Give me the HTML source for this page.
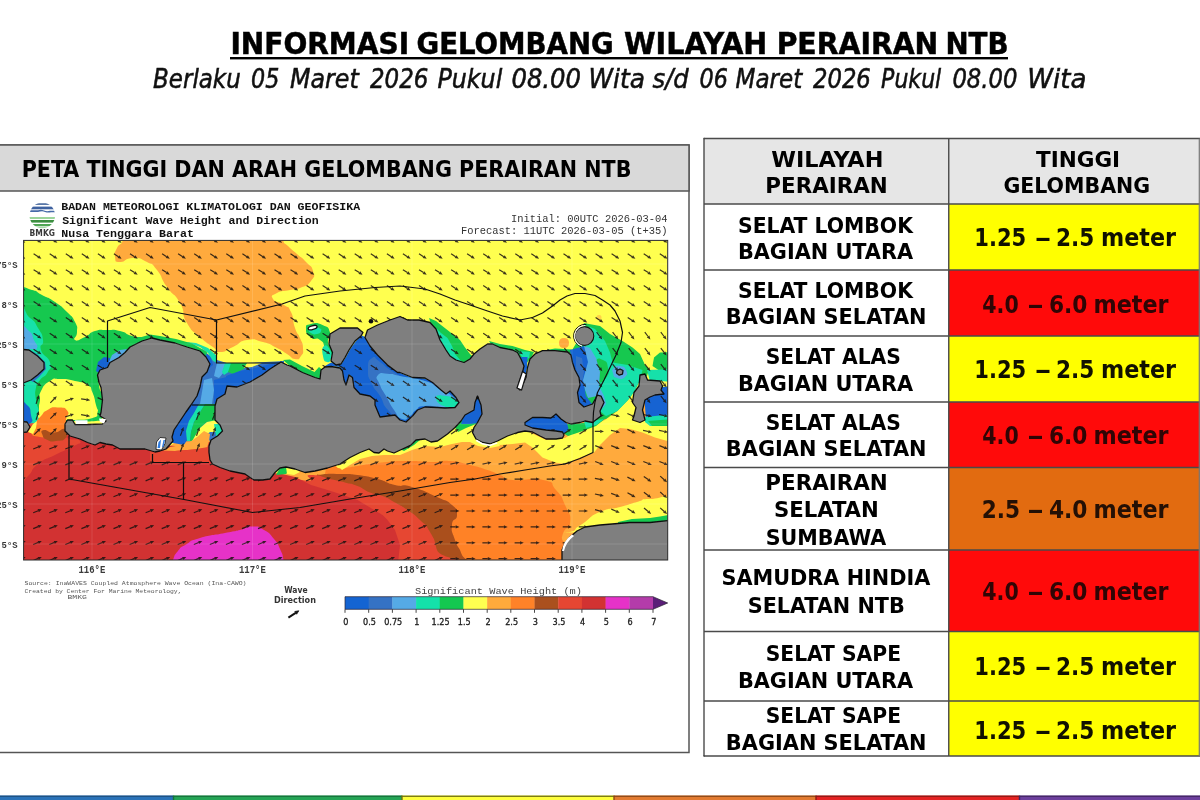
<!DOCTYPE html>
<html lang="id"><head><meta charset="utf-8"><title>Informasi Gelombang Wilayah Perairan NTB</title>
<style>html,body{margin:0;padding:0;background:#fff;overflow:hidden}svg{display:block}</style></head><body>
<svg width="1200" height="800" viewBox="0 0 1200 800">
<rect width="1200" height="800" fill="#fff"/>
<text y="54" font-family="'DejaVu Sans Condensed','DejaVu Sans','Liberation Sans',sans-serif" font-size="30" font-weight="bold" font-style="normal" fill="#000" stroke="#000" stroke-width="0.45"><tspan x="230.42" textLength="178.69" lengthAdjust="spacingAndGlyphs">INFORMASI</tspan> <tspan x="416.48" textLength="197.28" lengthAdjust="spacingAndGlyphs">GELOMBANG</tspan> <tspan x="623.94" textLength="143.38" lengthAdjust="spacingAndGlyphs">WILAYAH</tspan> <tspan x="776.65" textLength="161.66" lengthAdjust="spacingAndGlyphs">PERAIRAN</tspan> <tspan x="945.45" textLength="63.17" lengthAdjust="spacingAndGlyphs">NTB</tspan></text>
<rect x="230" y="57" width="778" height="2.4" fill="#000"/>
<text y="87.5" font-family="'DejaVu Sans Condensed','DejaVu Sans','Liberation Sans',sans-serif" font-size="26.6" font-weight="normal" font-style="italic" fill="#111" stroke="#111" stroke-width="0.5"><tspan x="153.04" textLength="87.72" lengthAdjust="spacingAndGlyphs">Berlaku</tspan> <tspan x="251.07" textLength="28.26" lengthAdjust="spacingAndGlyphs">05</tspan> <tspan x="290.01" textLength="68.75" lengthAdjust="spacingAndGlyphs">Maret</tspan> <tspan x="370.0" textLength="58.34" lengthAdjust="spacingAndGlyphs">2026</tspan> <tspan x="437.51" textLength="64.76" lengthAdjust="spacingAndGlyphs">Pukul</tspan> <tspan x="511.48" textLength="69.52" lengthAdjust="spacingAndGlyphs">08.00</tspan> <tspan x="588.42" textLength="56.47" lengthAdjust="spacingAndGlyphs">Wita</tspan> <tspan x="652.5" textLength="36.23" lengthAdjust="spacingAndGlyphs">s/d</tspan> <tspan x="699.57" textLength="28.26" lengthAdjust="spacingAndGlyphs">06</tspan> <tspan x="735.54" textLength="66.74" lengthAdjust="spacingAndGlyphs">Maret</tspan> <tspan x="813.0" textLength="57.83" lengthAdjust="spacingAndGlyphs">2026</tspan> <tspan x="881.08" textLength="60.17" lengthAdjust="spacingAndGlyphs">Pukul</tspan> <tspan x="952.45" textLength="64.96" lengthAdjust="spacingAndGlyphs">08.00</tspan> <tspan x="1027.22" textLength="59.25" lengthAdjust="spacingAndGlyphs">Wita</tspan></text>
<rect x="-2" y="145" width="691" height="607.5" fill="#fff" stroke="#555" stroke-width="1.5"/>
<rect x="-2" y="145" width="691" height="46" fill="#d9d9d9" stroke="#555" stroke-width="1.5"/>
<text x="21.73" y="177" font-family="'DejaVu Sans Condensed','DejaVu Sans','Liberation Sans',sans-serif" font-size="23.3" font-weight="bold" font-style="normal" fill="#000" text-anchor="start" textLength="609.72" lengthAdjust="spacingAndGlyphs">PETA TINGGI DAN ARAH GELOMBANG PERAIRAN NTB</text>
<g id="map">
<text x="61.2" y="210" font-family="'Liberation Mono','DejaVu Sans Mono',monospace" font-size="11.6" font-weight="bold" font-style="normal" fill="#111" text-anchor="start" textLength="298.97" lengthAdjust="spacingAndGlyphs">BADAN METEOROLOGI KLIMATOLOGI DAN GEOFISIKA</text>
<text x="62.2" y="223.8" font-family="'Liberation Mono','DejaVu Sans Mono',monospace" font-size="11.6" font-weight="bold" font-style="normal" fill="#111" text-anchor="start" textLength="256.54" lengthAdjust="spacingAndGlyphs">Significant Wave Height and Direction</text>
<text x="61.2" y="237.3" font-family="'Liberation Mono','DejaVu Sans Mono',monospace" font-size="11.6" font-weight="bold" font-style="normal" fill="#111" text-anchor="start" textLength="132.71" lengthAdjust="spacingAndGlyphs">Nusa Tenggara Barat</text>
<text x="510.99" y="222" font-family="'Liberation Mono','DejaVu Sans Mono',monospace" font-size="10.3" font-weight="normal" font-style="normal" fill="#333" text-anchor="start" textLength="156.5" lengthAdjust="spacingAndGlyphs">Initial: 00UTC 2026-03-04</text>
<text x="460.99" y="234" font-family="'Liberation Mono','DejaVu Sans Mono',monospace" font-size="10.3" font-weight="normal" font-style="normal" fill="#333" text-anchor="start" textLength="206.46" lengthAdjust="spacingAndGlyphs">Forecast: 11UTC 2026-03-05 (t+35)</text>
<defs><clipPath id="lg"><ellipse cx="42.3" cy="215.4" rx="12.8" ry="13"/></clipPath><filter id="soft" x="-2%" y="-2%" width="104%" height="104%"><feGaussianBlur stdDeviation="0.5"/></filter><clipPath id="mc"><rect x="23.6" y="240.4" width="644.1" height="319.6"/></clipPath></defs>
<g clip-path="url(#lg)"><rect x="29" y="202" width="27" height="27" fill="#fff"/><rect x="29" y="203.2" width="27" height="1.8" fill="#5a78a8"/><rect x="29" y="206.6" width="27" height="2.7" fill="#3f62a0"/><path d="M29,210.2h9q3,-1.2 6,0.2t6,0.3h6v1.6h-5q-3,0.8 -6,-0.4t-7,0.2h-9z" fill="#456aa8"/><rect x="29" y="217" width="27" height="2" fill="#9bd49b"/><rect x="29" y="220" width="27" height="2.6" fill="#3c8f40"/><rect x="29" y="224" width="27" height="2.3" fill="#4fa653"/><rect x="29" y="227.2" width="27" height="1.2" fill="#8fd08f"/></g>
<text x="29.6" y="236.3" font-family="'DejaVu Sans Condensed','DejaVu Sans','Liberation Sans',sans-serif" font-size="8.2" font-weight="bold" font-style="normal" fill="#3a3a3a" text-anchor="start" textLength="25.4" lengthAdjust="spacingAndGlyphs">BMKG</text>
<g clip-path="url(#mc)"><g filter="url(#soft)">
<rect x="23.6" y="240.4" width="644.1" height="319.6" fill="#ffff50"/>
<path d="M124,228 C71.0,232.0 125.3,233.3 123,240 C120.7,246.7 119.7,242.3 117,248 C114.3,253.7 114.0,252.3 115,257 C116.0,261.7 114.0,261.7 120,262 C126.0,262.3 124.0,258.0 133,258 C142.0,258.0 139.0,258.0 147,262 C155.0,266.0 150.3,261.7 157,270 C163.7,278.3 159.3,276.0 167,287 C174.7,298.0 173.3,291.0 180,303 C186.7,315.0 180.3,311.7 187,323 C193.7,334.3 191.3,329.0 200,337 C208.7,345.0 206.3,342.0 213,347 C219.7,352.0 213.3,352.0 220,352 C226.7,352.0 224.0,351.0 233,347 C242.0,343.0 237.0,341.7 247,340 C257.0,338.3 253.0,339.3 263,342 C273.0,344.7 269.0,344.0 277,348 C285.0,352.0 281.0,350.3 287,354 C293.0,357.7 290.3,358.3 295,359 C299.7,359.7 298.3,359.7 301,356 C303.7,352.3 303.3,354.0 303,348 C302.7,342.0 302.7,344.7 300,338 C297.3,331.3 298.0,336.7 295,328 C292.0,319.3 294.7,319.7 291,312 C287.3,304.3 290.0,309.3 284,305 C278.0,300.7 275.3,303.0 273,299 C270.7,295.0 271.3,296.0 277,293 C282.7,290.0 282.3,291.7 290,290 C297.7,288.3 293.0,291.0 300,288 C307.0,285.0 306.7,286.7 311,281 C315.3,275.3 314.7,277.3 313,271 C311.3,264.7 311.3,267.7 306,262 C300.7,256.3 303.0,259.3 297,254 C291.0,248.7 292.7,250.7 288,246 C283.3,241.3 285.0,246.0 283,240 C281.0,234.0 335.0,232.0 282,228 C229.0,224.0 177.0,224.0 124,228Z" fill="#ffaa3c"/>
<path d="M559,343 C559.0,339.7 560.7,338.0 564,338 C567.3,338.0 569.0,339.7 569,343 C569.0,346.3 567.3,348.0 564,348 C560.7,348.0 559.0,346.3 559,343Z" fill="#ffaa3c"/>
<path d="M596.5,317.5 C596.5,315.8 597.3,315.0 599,315 C600.7,315.0 601.5,315.8 601.5,317.5 C601.5,319.2 600.7,320.0 599,320 C597.3,320.0 596.5,319.2 596.5,317.5Z" fill="#ffd24a"/>
<path d="M18,289 C26.0,285.7 24.0,288.0 32,290 C40.0,292.0 34.3,291.0 42,295 C49.7,299.0 46.7,296.3 55,302 C63.3,307.7 60.3,305.3 67,312 C73.7,318.7 71.7,315.3 75,322 C78.3,328.7 77.0,326.0 77,332 C77.0,338.0 72.3,338.3 75,340 C77.7,341.7 78.3,340.0 85,337 C91.7,334.0 87.7,333.3 95,331 C102.3,328.7 98.7,330.0 107,330 C115.3,330.0 111.7,329.0 120,331 C128.3,333.0 124.0,333.7 132,336 C140.0,338.3 141.3,335.7 144,338 C146.7,340.3 145.3,339.0 140,343 C134.7,347.0 135.3,345.0 128,350 C120.7,355.0 124.7,353.3 118,358 C111.3,362.7 114.0,359.3 108,364 C102.0,368.7 103.0,365.0 100,372 C97.0,379.0 98.0,375.7 99,385 C100.0,394.3 102.0,389.0 103,400 C104.0,411.0 104.3,411.0 102,418 C99.7,425.0 106.7,420.0 96,421 C85.3,422.0 85.3,421.0 70,421 C54.7,421.0 60.7,420.7 50,421 C39.3,421.3 44.7,418.3 38,422 C31.3,425.7 36.7,427.3 30,432 C23.3,436.7 25.3,446.7 18,436 C10.7,425.3 11.3,445.3 8,400 C4.7,354.7 4.7,337.0 8,300 C11.3,263.0 10.0,292.3 18,289Z" fill="#14c850"/>
<path d="M18,313 C25.3,299.0 23.3,313.0 30,318 C36.7,323.0 33.7,320.7 38,328 C42.3,335.3 42.0,332.7 43,340 C44.0,347.3 38.7,342.5 41,350 C43.3,357.5 47.8,355.0 50,362.5 C52.2,370.0 50.8,366.7 47.5,372.5 C44.2,378.3 43.8,375.0 40,380 C36.2,385.0 37.3,380.8 36,387.5 C34.7,394.2 35.0,391.7 36,400 C37.0,408.3 38.5,405.5 39,412.5 C39.5,419.5 40.2,414.8 37.5,421 C34.8,427.2 37.5,426.0 31,431 C24.5,436.0 25.7,459.7 18,436 C10.3,412.3 8.0,401.0 8,360 C8.0,319.0 10.7,327.0 18,313Z" fill="#14e1aa"/>
<path d="M18,326 C21.7,320.3 23.7,326.3 29,331 C34.3,335.7 31.3,334.3 34,340 C36.7,345.7 38.3,345.0 37,348 C35.7,351.0 36.3,349.0 30,349 C23.7,349.0 22.0,355.7 18,348 C14.0,340.3 14.3,331.7 18,326Z" fill="#55aae6"/>
<path d="M18,403 C21.0,395.3 22.7,401.0 27,405 C31.3,409.0 30.0,408.7 31,415 C32.0,421.3 34.3,419.7 30,424 C25.7,428.3 22.0,435.0 18,428 C14.0,421.0 15.0,410.7 18,403Z" fill="#1464d2"/>
<path d="M28,349 L37,354 L45,362 L46,369 L39,377 L33,382 L30,380 L38,374 L42,367 L41,362 L34,356Z" fill="#3572c4"/>
<path d="M41,391 C44.3,384.7 43.7,385.0 50,381 C56.3,377.0 51.7,379.0 60,379 C68.3,379.0 65.8,379.0 75,381 C84.2,383.0 81.7,381.2 87.5,385 C93.3,388.8 89.7,385.8 92.5,392.5 C95.3,399.2 94.3,398.3 96,405 C97.7,411.7 98.7,408.2 97.5,412.5 C96.3,416.8 100.0,415.5 92.5,418 C85.0,420.5 84.2,419.3 75,420 C65.8,420.7 73.3,419.7 65,420 C56.7,420.3 58.3,421.0 50,421 C41.7,421.0 43.7,424.0 40,420 C36.3,416.0 39.0,415.7 39,409 C39.0,402.3 39.3,406.0 40,400 C40.7,394.0 37.7,397.3 41,391Z" fill="#ffff50"/>
<path d="M96,371 L98,362 L104,357 L110,358 L110,364 L106,369 L100,374Z" fill="#1464d2"/>
<path d="M109,362 L112,355 L120,350 L127,349 L122,356 L114,362Z" fill="#55aae6"/>
<path d="M18,430 L66,430 L70,438 L120,450 L160,455 L175,442 L190,440 L212,440 L207,452 L215,468 L250,484 L280,472 L340,468 L365,453 L412,444 L450,436 L472,425 L520,420 L600,405 L640,400 L674,400 L674,565 L18,565Z" fill="#ffaa3c"/>
<path d="M325,474 C330.8,441.0 331.7,471.7 342.5,469 C353.3,466.3 344.2,468.2 357.5,466 C370.8,463.8 365.8,464.2 382.5,462.5 C399.2,460.8 390.7,461.2 407.5,461 C424.3,460.8 418.8,462.0 433,462 C447.2,462.0 437.7,460.0 450,461 C462.3,462.0 457.5,462.0 470,465 C482.5,468.0 477.5,466.7 487.5,470 C497.5,473.3 491.7,471.7 500,475 C508.3,478.3 498.2,478.3 512.5,480 C526.8,481.7 528.5,476.7 543,480 C557.5,483.3 548.7,481.7 556,490 C563.3,498.3 560.3,494.0 565,505 C569.7,516.0 571.0,512.3 570,523 C569.0,533.7 566.0,522.0 562,537 C558.0,552.0 637.0,557.7 558,568 C479.0,578.3 402.7,599.3 325,568 C247.3,536.7 319.2,507.0 325,474Z" fill="#ff8228"/>
<path d="M316,477 C319.3,471.8 314.0,475.5 322,474.5 C330.0,473.5 328.2,473.8 340,474 C351.8,474.2 345.0,473.3 357.5,475 C370.0,476.7 365.0,475.7 377.5,479 C390.0,482.3 383.5,482.3 395,485 C406.5,487.7 398.0,483.0 412,487 C426.0,491.0 423.7,491.0 437,497 C450.3,503.0 445.3,499.0 452,505 C458.7,511.0 457.0,508.3 457,515 C457.0,521.7 452.7,516.7 452,525 C451.3,533.3 451.7,530.0 455,540 C458.3,550.0 458.3,544.3 462,555 C465.7,565.7 514.0,566.3 466,572 C418.0,577.7 370.0,589.3 318,572 C266.0,554.7 312.0,547.3 310,520 C308.0,492.7 310.0,504.3 312,490 C314.0,475.7 312.7,482.2 316,477Z" fill="#aa501e"/>
<path d="M190,452 C223.3,420.7 249.7,470.3 290,478 C330.3,485.7 297.7,474.7 311,475 C324.3,475.3 318.7,476.5 330,479 C341.3,481.5 335.8,480.2 345,482.5 C354.2,484.8 349.2,482.7 357.5,486 C365.8,489.3 361.7,489.2 370,492.5 C378.3,495.8 374.2,492.7 382.5,496 C390.8,499.3 386.7,497.8 395,502.5 C403.3,507.2 399.2,504.2 407.5,510 C415.8,515.8 412.5,512.7 420,520 C427.5,527.3 424.3,522.0 430,532 C435.7,542.0 433.3,536.7 437,550 C440.7,563.3 523.3,564.7 441,572 C358.7,579.3 273.7,612.0 190,572 C106.3,532.0 156.7,483.3 190,452Z" fill="#e64632"/>
<path d="M18,431 L64,431 L70,432 L120,440 L160,445 L175,446 L190,449 L212,450 L225,462 L250,472 L282,474 L295,477 L311,485 L327.5,490 L340,494 L357.5,500 L370,507.5 L382.5,515 L387.5,520 L395,530 L400,545 L397,572 L18,572Z" fill="#d23232"/>
<path d="M18,431 C33.7,414.0 48.7,428.7 65,431 C81.3,433.3 62.0,434.7 67,438 C72.0,441.3 78.3,438.0 80,441 C81.7,444.0 80.3,442.3 72,447 C63.7,451.7 66.3,449.3 55,455 C43.7,460.7 47.0,457.0 38,464 C29.0,471.0 34.7,470.0 28,476 C21.3,482.0 21.3,497.0 18,482 C14.7,467.0 2.3,448.0 18,431Z" fill="#e64632"/>
<path d="M31,432 C29.7,427.2 32.7,427.8 36,422.5 C39.3,417.2 37.2,420.2 41,416 C44.8,411.8 42.0,412.8 47.5,410 C53.0,407.2 50.8,407.2 57.5,407.5 C64.2,407.8 64.7,406.8 67.5,411 C70.3,415.2 66.8,413.0 66,420 C65.2,427.0 69.0,426.7 65,432 C61.0,437.3 62.3,434.3 54,436 C45.7,437.7 47.7,438.3 40,437 C32.3,435.7 32.3,436.8 31,432Z" fill="#ff8228"/>
<path d="M28,432 L33,424 L37,421 L36,428 L33,434Z" fill="#ffff50"/>
<path d="M42.5,435 C41.3,431.7 40.2,430.8 44,430 C47.8,429.2 47.0,432.8 54,432.5 C61.0,432.2 61.0,427.3 65,429 C69.0,430.7 69.0,433.5 66,437.5 C63.0,441.5 62.2,440.2 56,441 C49.8,441.8 52.0,442.0 47.5,440 C43.0,438.0 43.7,438.3 42.5,435Z" fill="#aa501e"/>
<path d="M171,570 C134.0,566.7 170.7,566.3 173,560 C175.3,553.7 173.7,556.2 178,551 C182.3,545.8 178.7,548.8 186,544.5 C193.3,540.2 187.0,541.8 200,538 C213.0,534.2 211.7,535.7 225,533 C238.3,530.3 231.0,532.2 240,530 C249.0,527.8 244.0,526.5 252,526.5 C260.0,526.5 256.7,525.8 264,530 C271.3,534.2 268.7,532.7 274,539 C279.3,545.3 276.8,542.0 280,549 C283.2,556.0 282.2,553.0 283.5,560 C284.8,567.0 321.5,566.7 284,570 C246.5,573.3 208.0,573.3 171,570Z" fill="#e632c8"/>
<path d="M530,432.5 L546,440 L565,438 L575,432 L593,425 L605,420 L617.5,411 L630,396 L637,405 L636,416 L642.5,418 L655,420 L666,420 L674,420 L674,443 L655,437.5 L642.5,432.5 L630,429 L620,428 L610,435 L600,445 L594,452.5 L580,457.5 L565,464 L555,462.5 L542.5,457.5 L532.5,447.5 L525,442.5 L512.5,444 L500,445 L495,442.5 L510,434 L525,430Z" fill="#ffff50"/>
<path d="M563,424 L575,424 L590,422 L600,416 L606,418 L596,426 L580,432 L568,436 L563,433Z" fill="#14c850"/>
<path d="M584,421 L598,417 L604,419 L596,425 L586,428Z" fill="#14e1aa"/>
<path d="M575,530 C576.7,526.7 576.7,528.0 585,522 C593.3,516.0 588.3,517.0 600,512 C611.7,507.0 607.7,510.3 620,507 C632.3,503.7 627.0,504.7 637,502 C647.0,499.3 637.7,499.3 650,499 C662.3,498.7 666.0,492.3 674,501 C682.0,509.7 705.3,514.7 674,525 C642.7,535.3 613.0,530.3 580,532 C547.0,533.7 573.3,533.3 575,530Z" fill="#ffff50"/>
<path d="M618,522 L632,519 L650,518 L660,516.5 L674,514 L674,526 L618,526Z" fill="#14c850"/>
<path d="M338,466 L350,457.5 L360,452.5 L369,449 L374,452.5 L379,453 L384,449 L394,453 L402.5,449 L411,445 L416,440 L425,439 L431,442 L437.5,441 L447.5,434 L455,427.5 L461,421 L466,416 L476,420 L474,427.5 L472.5,432.5 L476,439 L482.5,442.5 L490,444 L497.5,441 L500,446 L490,448 L478,446 L470,442 L462,442 L452,444 L440,447 L425,446 L412,450 L400,455 L384,455 L372,456 L360,459 L350,465 L342,470Z" fill="#ffff50"/>
<path d="M455,427.5 L461,421 L465,416 L474,413 L480,418 L476,424 L466,428 L458,432Z" fill="#14c850"/>
<path d="M462,419 L466,415 L474,412 L481,414 L478,420 L470,423Z" fill="#14e1aa"/>
<path d="M400,449 L407.5,445 L416,440 L420,440 L414,445 L404,451Z" fill="#14c850"/>
<path d="M276,475 L280,468 L286,467 L290,469 L286,474Z" fill="#14c850"/>
<path d="M286,467 L295,469 L300,472 L294,475 L287,474Z" fill="#ffff50"/>
<path d="M195,346 L217,360 L230,364 L284,361 L284,372 L250,384 L226,392 L218,402 L224,440 L168,442 L185,410 L198,385Z" fill="#3572c4"/>
<path d="M190,345 L204,350 L211,358 L213,365 L208,369 L203,360 L196,353Z" fill="#1464d2"/>
<path d="M186,342 L200,347 L208,353 L213,361 L217,363 L217,356 L208,348 L196,343Z" fill="#14e1aa"/>
<path d="M217,363 L226,363 L224,372 L219,378 L214,376Z" fill="#55aae6"/>
<path d="M225,363 L232,363 L230,371 L224,375 L222,372Z" fill="#14e1aa"/>
<path d="M231,363 L248,363 L244,369 L233,374 L228,372Z" fill="#14c850"/>
<path d="M247,363 L262,363 L252,367 L244,368Z" fill="#ffff50"/>
<path d="M226,376 L240,371 L255,368 L270,364 L284,361 L272,370 L262,376 L250,383 L237,388 L227,387Z" fill="#1464d2"/>
<path d="M204,380 L212,378 L214,390 L212,404 L200,404 L202,392Z" fill="#55aae6"/>
<path d="M214,380 L227,377 L227,392 L218,400 L214,404Z" fill="#1464d2"/>
<path d="M190,404 L199,404 L194,413 L189,421 L186,431 L187,440 L184,445 L168,442 L174,430 L180,420 L186,412Z" fill="#1464d2"/>
<path d="M199,404 L205,404 L199,414 L194,422 L191,432 L190,441 L187,441 L186,431 L189,421 L194,413Z" fill="#14e1aa"/>
<path d="M205,404 L217,404 L217,421 L207,422 L200,428 L195,436 L193,441 L190,441 L191,432 L194,422 L199,414Z" fill="#14c850"/>
<path d="M217,420 L207,422 L200,428 L195,436 L191,443 L198,444 L203,437 L210,432 L224,432 L222,424Z" fill="#ffff50"/>
<path d="M214,424 L222,424 L223,435 L216,436Z" fill="#14e1aa"/>
<path d="M204,431 L210,434 L209,441 L207,448 L194,449.5 L181,450.5 L162,452 L157,454 L170,447 L187,444 L197,437Z" fill="#ffaa3c"/>
<path d="M150,450 L175,451 L194,449.5 L208,447 L210,463 L150,463Z" fill="#e64632"/>
<path d="M128,348 L142,341 L152,338 L160,340 L175,343 L187,347 L200,351 L206,356 L207,352 L192,343.5 L176,339 L160,336 L150,334.5 L140,337.5 L128,344Z" fill="#14c850"/>
<path d="M306,329 C306.0,324.5 305.5,325.3 311,324 C316.5,322.7 316.2,322.2 322.5,325 C328.8,327.8 328.2,326.7 330,332.5 C331.8,338.3 327.0,336.7 328,342.5 C329.0,348.3 332.0,345.5 333,350 C334.0,354.5 332.7,352.7 331,356 C329.3,359.3 330.0,362.7 328,360 C326.0,357.3 327.7,354.7 325,348 C322.3,341.3 324.7,343.5 320,340 C315.3,336.5 315.7,341.2 311,337.5 C306.3,333.8 306.0,333.5 306,329Z" fill="#14c850"/>
<path d="M309,329 C309.7,327.0 309.7,327.3 313,327 C316.3,326.7 316.3,326.7 319,328 C321.7,329.3 321.7,329.0 321,331 C320.3,333.0 320.3,333.3 317,334 C313.7,334.7 313.7,334.7 311,333 C308.3,331.3 308.3,331.0 309,329Z" fill="#14e1aa"/>
<path d="M324,346 C326.3,344.0 327.7,346.0 330,350 C332.3,354.0 332.0,354.0 331,358 C330.0,362.0 329.7,362.7 327,362 C324.3,361.3 324.0,361.3 323,356 C322.0,350.7 321.7,348.0 324,346Z" fill="#14e1aa"/>
<path d="M283,360 L290,366 L302.5,372.5 L315,377.5 L321,379.5 L322.5,370 L319,367 L314.5,372 L302,366 L290,359.5Z" fill="#14c850"/>
<path d="M365,337 L371,346 L378,355 L388,365 L398,372 L410,377 L425,378.5 L433,382 L441,389.5 L447,392 L451,390.5 L457,397 L460,402.5 L456,408 L445,409 L437,408 L425,407.5 L417,410.5 L412,417 L406,423 L399,421 L395,416 L380,418 L374,405 L374,400 L369,397 L359,395 L353,388 L352,377 L349,374.5 L346,386 L343,380 L342,370 L340,367 L330,366 L322,369 L321,372 L325,366 L331,362.5 L341,364.5 L346,357 L350,349.5 L356,341 L362,335.5Z" fill="#1464d2"/>
<path d="M372,358 C376.0,355.3 373.3,357.7 380,362 C386.7,366.3 383.0,365.7 392,371 C401.0,376.3 396.0,374.7 407,378 C418.0,381.3 415.0,378.0 425,381 C435.0,384.0 428.7,382.7 437,387 C445.3,391.3 444.0,389.0 450,394 C456.0,399.0 458.3,397.3 455,402 C451.7,406.7 451.7,406.7 440,408 C428.3,409.3 430.0,404.0 420,406 C410.0,408.0 416.7,410.0 410,414 C403.3,418.0 407.3,419.3 400,418 C392.7,416.7 394.7,417.3 388,410 C381.3,402.7 385.3,404.7 380,396 C374.7,387.3 376.0,392.7 372,384 C368.0,375.3 368.0,378.7 368,370 C368.0,361.3 368.0,360.7 372,358Z" fill="#3572c4"/>
<path d="M378,375 C381.3,371.3 382.7,373.7 390,374 C397.3,374.3 388.3,373.7 400,376 C411.7,378.3 411.7,376.7 425,381 C438.3,385.3 431.0,384.0 440,389 C449.0,394.0 446.7,391.3 452,396 C457.3,400.7 458.3,399.3 456,403 C453.7,406.7 455.3,406.0 445,407 C434.7,408.0 434.7,405.0 425,406 C415.3,407.0 421.0,406.7 416,410 C411.0,413.3 414.7,413.0 410,416 C405.3,419.0 407.3,421.0 402,419 C396.7,417.0 399.3,417.7 394,410 C388.7,402.3 390.7,404.3 386,396 C381.3,387.7 382.7,392.0 380,385 C377.3,378.0 374.7,378.7 378,375Z" fill="#55aae6"/>
<path d="M436,398 C436.0,394.3 439.3,395.3 446,396 C452.7,396.7 452.3,397.0 456,400 C459.7,403.0 460.3,402.7 457,405 C453.7,407.3 453.0,409.3 446,407 C439.0,404.7 436.0,401.7 436,398Z" fill="#14e1aa"/>
<path d="M429,318 L436,321 L441,325 L452.5,334 L460,340 L465,347.5 L470,354 L474,358 L466,365 L456,362 L448,356 L443,347 L438,335 L432,327Z" fill="#14c850"/>
<path d="M436,328 L441,333 L447.5,338 L452,346 L455,354 L461,361 L456,362 L449,356 L444,349 L439,340Z" fill="#14e1aa"/>
<path d="M489,341 L500,344 L512.5,346 L525,350 L534,352 L531,358 L524,366 L520,359 L516,353 L500,349 L492,346Z" fill="#14c850"/>
<path d="M518,351 L530,352 L529,358 L524,360Z" fill="#14e1aa"/>
<path d="M520.5,357 L527.5,357 L527,367.5 L525,378 L521,379 L522.5,368Z" fill="#1464d2"/>
<path d="M541,351 L555,348.5 L572,349.5 L572,354 L545,354Z" fill="#14c850"/>
<path d="M584,323 L589,324 L600,326 L610,334 L622.5,341 L632.5,347.5 L640,354 L645,365 L649,369 L647,376 L640,380 L634,392 L628,400 L617,411 L606,419 L596,420 L585,410 L575,400 L571,352 L578,340Z" fill="#14c850"/>
<path d="M652.5,366 L654,357.5 L660,352.5 L674,352 L674,372 L660,371Z" fill="#14c850"/>
<path d="M647,370 L674,369 L674,382 L660,381 L650,381Z" fill="#14e1aa"/>
<path d="M590,327 L595,329 L605,341 L610,352.5 L612.5,362.5 L627.5,365 L642.5,370 L640,380 L634,392 L628,400 L617.5,411 L606,416 L600,411 L596,396 L590,380 L586,360 L586,340Z" fill="#14e1aa"/>
<path d="M595,362 C598.0,357.3 598.7,358.0 603,360 C607.3,362.0 607.0,362.0 608,368 C609.0,374.0 609.3,373.3 606,378 C602.7,382.7 602.0,383.3 598,382 C594.0,380.7 595.0,380.7 594,374 C593.0,367.3 592.0,366.7 595,362Z" fill="#14c850"/>
<path d="M584,346 L590,348 L596,358 L600,372 L599,386 L604,396 L606,404 L600,411 L597,396 L588,398 L582,382 L580,360Z" fill="#55aae6"/>
<path d="M570,350 L584,346 L588,362 L583,380 L586,396 L592,404 L584,408 L578,403 L575,390 L573,370Z" fill="#1464d2"/>
<path d="M576,356 L582,358 L584,372 L582,384 L578,380 L576,368Z" fill="#3572c4"/>
<path d="M614,368 C616.3,365.7 616.0,365.3 620,366 C624.0,366.7 624.3,366.3 626,370 C627.7,373.7 628.0,374.3 625,377 C622.0,379.7 621.0,379.3 617,378 C613.0,376.7 614.0,376.3 613,373 C612.0,369.7 611.7,370.3 614,368Z" fill="#55aae6"/>
<path d="M644,394 L652,388 L674,386 L674,419 L646,419Z" fill="#1464d2"/>
<path d="M645,417 L674,414 L674,426 L650,426 L645,422Z" fill="#14e1aa"/>
<path d="M648,421 L674,419 L674,426 L652,426Z" fill="#14c850"/>
<path d="M476,395 L480,396 L482.5,405 L483,414 L478.5,423 L470,424 L461,424 L464,415 L473,410 L474,402Z" fill="#1464d2"/>
<path d="M524,422 L532,416.5 L551,417 L556,413 L562,418.5 L567,423 L568.5,429 L565,433 L556,432 L546,431 L532,429 L524,426Z" fill="#1464d2"/>
<path d="M17.6,237.8L22.1,240.8M33.6,237.8L38.2,240.8M49.7,237.8L54.2,240.8M65.8,237.8L70.3,240.8M81.8,237.8L86.3,240.8M97.9,237.8L102.4,240.8M113.9,237.8L118.4,240.8M130.0,237.8L134.5,240.8M146.0,237.8L150.6,240.8M162.1,237.8L166.6,240.8M178.1,237.8L182.7,240.8M194.2,237.8L198.7,240.8M210.2,237.8L214.8,240.8M226.3,237.8L230.8,240.8M242.4,237.8L246.9,240.8M258.4,237.8L262.9,240.8M274.5,237.8L279.0,240.8M290.5,237.8L295.1,240.8M306.6,237.8L311.1,240.8M322.6,237.8L327.2,240.8M338.7,237.8L343.2,240.8M354.7,237.8L359.3,240.8M370.8,237.8L375.3,240.8M386.9,237.8L391.4,240.8M402.9,237.8L407.4,240.8M419.0,237.8L423.5,240.8M435.0,237.8L439.5,240.8M451.1,237.8L455.6,240.8M467.1,237.8L471.7,240.8M483.2,237.8L487.7,240.8M499.2,237.8L503.8,240.8M515.3,237.8L519.8,240.8M531.3,237.8L535.9,240.8M547.4,237.8L551.9,240.8M563.5,237.8L568.0,240.8M579.5,237.8L584.0,240.8M595.6,237.8L600.1,240.8M611.6,237.8L616.2,240.8M627.7,237.8L632.2,240.8M643.7,237.8L648.3,240.8M659.8,237.8L664.3,240.8M17.6,253.7L22.1,256.7M33.6,253.7L38.2,256.7M49.7,253.7L54.2,256.7M65.8,253.7L70.3,256.7M81.8,253.7L86.3,256.7M97.9,253.7L102.4,256.7M113.9,253.7L118.4,256.7M130.0,253.7L134.5,256.7M146.0,253.7L150.6,256.7M162.1,253.7L166.6,256.7M178.1,253.7L182.7,256.7M194.2,253.7L198.7,256.7M210.2,253.7L214.8,256.7M226.3,253.7L230.8,256.7M242.4,253.7L246.9,256.7M258.4,253.7L262.9,256.7M274.5,253.7L279.0,256.7M290.5,253.7L295.1,256.7M306.6,253.7L311.1,256.7M322.6,253.7L327.2,256.7M338.7,253.7L343.2,256.7M354.7,253.7L359.3,256.7M370.8,253.7L375.3,256.7M386.9,253.7L391.4,256.7M402.9,253.7L407.4,256.7M419.0,253.7L423.5,256.7M435.0,253.7L439.5,256.7M451.1,253.7L455.6,256.7M467.1,253.7L471.7,256.7M483.2,253.7L487.7,256.7M499.2,253.7L503.8,256.7M515.3,253.7L519.8,256.7M531.3,253.7L535.9,256.7M547.4,253.7L551.9,256.7M563.5,253.7L568.0,256.7M579.5,253.7L584.0,256.7M595.6,253.7L600.1,256.7M611.6,253.7L616.2,256.7M627.7,253.7L632.2,256.7M643.7,253.7L648.3,256.7M659.8,253.7L664.3,256.7M17.6,269.7L22.1,272.6M33.6,269.7L38.2,272.6M49.7,269.7L54.2,272.6M65.8,269.7L70.3,272.6M81.8,269.7L86.3,272.6M97.9,269.7L102.4,272.6M113.9,269.7L118.4,272.6M130.0,269.7L134.5,272.6M146.0,269.7L150.6,272.6M162.1,269.7L166.6,272.6M178.1,269.7L182.7,272.6M194.2,269.7L198.7,272.6M210.2,269.7L214.8,272.6M226.3,269.7L230.8,272.6M242.4,269.7L246.9,272.6M258.4,269.7L262.9,272.6M274.5,269.7L279.0,272.6M290.5,269.7L295.1,272.6M306.6,269.7L311.1,272.6M322.6,269.7L327.2,272.6M338.7,269.7L343.2,272.6M354.7,269.7L359.3,272.6M370.8,269.7L375.3,272.6M386.9,269.7L391.4,272.6M402.9,269.7L407.4,272.6M419.0,269.7L423.5,272.6M435.0,269.7L439.5,272.6M451.1,269.7L455.6,272.6M467.1,269.7L471.7,272.6M483.2,269.7L487.7,272.6M499.2,269.7L503.8,272.6M515.3,269.7L519.8,272.6M531.3,269.7L535.9,272.6M547.4,269.7L551.9,272.6M563.5,269.7L568.0,272.6M579.5,269.7L584.0,272.6M595.6,269.7L600.1,272.6M611.6,269.7L616.2,272.6M627.7,269.7L632.2,272.6M643.7,269.7L648.3,272.6M659.8,269.7L664.3,272.6M17.6,285.6L22.1,288.5M33.6,285.6L38.2,288.5M49.7,285.6L54.2,288.5M65.8,285.6L70.3,288.5M81.8,285.6L86.3,288.5M97.9,285.6L102.4,288.5M113.9,285.6L118.4,288.5M130.0,285.6L134.5,288.5M146.0,285.6L150.6,288.5M162.1,285.6L166.6,288.5M178.1,285.6L182.7,288.5M194.2,285.6L198.7,288.5M210.2,285.6L214.8,288.5M226.3,285.6L230.8,288.5M242.4,285.6L246.9,288.5M258.4,285.6L262.9,288.5M274.5,285.6L279.0,288.5M290.5,285.6L295.1,288.5M306.6,285.6L311.1,288.5M322.6,285.6L327.2,288.5M338.7,285.6L343.2,288.5M354.7,285.6L359.3,288.5M370.8,285.6L375.3,288.5M386.9,285.6L391.4,288.5M402.9,285.6L407.4,288.5M419.0,285.6L423.5,288.5M435.0,285.6L439.5,288.5M451.1,285.6L455.6,288.5M467.1,285.6L471.7,288.5M483.2,285.6L487.7,288.5M499.2,285.6L503.8,288.5M515.3,285.6L519.8,288.5M531.3,285.6L535.9,288.5M547.4,285.6L551.9,288.5M563.5,285.6L568.0,288.5M579.5,285.6L584.0,288.5M595.6,285.6L600.1,288.5M611.6,285.6L616.2,288.5M627.7,285.6L632.2,288.5M643.7,285.6L648.3,288.5M659.8,285.6L664.3,288.5M17.6,301.5L22.1,304.4M33.6,301.5L38.2,304.4M49.7,301.5L54.2,304.4M65.8,301.5L70.3,304.4M81.8,301.5L86.3,304.4M97.9,301.5L102.4,304.4M113.9,301.5L118.4,304.4M130.0,301.5L134.5,304.4M146.0,301.5L150.6,304.4M162.1,301.5L166.6,304.4M178.1,301.5L182.7,304.4M194.2,301.5L198.7,304.4M210.2,301.5L214.8,304.4M226.3,301.5L230.8,304.4M242.4,301.5L246.9,304.4M258.4,301.5L262.9,304.4M274.5,301.5L279.0,304.4M290.5,301.5L295.1,304.4M306.6,301.5L311.1,304.4M322.6,301.5L327.2,304.4M338.7,301.5L343.2,304.4M354.7,301.5L359.3,304.4M370.8,301.5L375.3,304.4M386.9,301.5L391.4,304.4M402.9,301.5L407.4,304.4M419.0,301.5L423.5,304.4M435.0,301.5L439.5,304.4M451.1,301.5L455.6,304.4M467.1,301.5L471.7,304.4M483.2,301.5L487.7,304.4M499.2,301.5L503.8,304.4M515.3,301.5L519.8,304.4M531.3,301.5L535.9,304.4M547.4,301.5L551.9,304.4M563.5,301.5L568.0,304.4M579.5,301.5L584.0,304.4M595.6,301.5L600.1,304.4M611.6,301.5L616.2,304.4M627.7,301.5L632.2,304.4M643.7,301.5L648.3,304.4M659.8,301.5L664.3,304.4M17.6,317.4L22.1,320.4M33.6,317.4L38.2,320.4M49.7,317.4L54.2,320.4M65.8,317.4L70.3,320.4M81.8,317.4L86.3,320.4M97.9,317.4L102.4,320.4M113.9,317.4L118.4,320.4M130.0,317.4L134.5,320.4M146.0,317.4L150.6,320.4M162.1,317.4L166.6,320.4M178.1,317.4L182.7,320.4M194.2,317.4L198.7,320.4M210.2,317.4L214.8,320.4M226.3,317.4L230.8,320.4M242.4,317.4L246.9,320.4M258.4,317.4L262.9,320.4M274.5,317.4L279.0,320.4M290.5,317.4L295.1,320.4M306.6,317.4L311.1,320.4M322.6,317.4L327.2,320.4M338.7,317.4L343.2,320.4M354.7,317.4L359.3,320.4M370.8,317.4L375.3,320.4M386.9,317.4L391.4,320.4M402.9,317.4L407.4,320.4M419.0,317.4L423.5,320.4M435.0,317.4L439.5,320.4M451.1,317.4L455.6,320.4M467.1,317.4L471.7,320.4M483.2,317.4L487.7,320.4M499.2,317.4L503.8,320.4M515.3,317.4L519.8,320.4M531.3,317.4L535.9,320.4M547.4,317.4L551.9,320.4M563.5,317.4L568.0,320.4M579.5,317.4L584.0,320.4M595.6,317.4L600.1,320.4M611.6,317.4L616.2,320.4M627.7,317.4L632.2,320.4M643.7,317.4L648.3,320.4M659.8,317.4L664.3,320.4M17.6,333.3L22.1,336.3M33.6,333.3L38.2,336.3M49.7,333.3L54.2,336.3M65.8,333.3L70.3,336.3M81.8,333.3L86.3,336.3M97.9,333.3L102.4,336.3M113.9,333.3L118.4,336.3M130.0,333.3L134.5,336.3M146.0,333.3L150.6,336.3M162.1,333.3L166.6,336.3M178.1,333.3L182.7,336.3M194.2,333.3L198.7,336.3M210.2,333.3L214.8,336.3M226.3,333.3L230.8,336.3M242.4,333.3L246.9,336.3M258.4,333.3L262.9,336.3M274.5,333.3L279.0,336.3M290.5,333.3L295.1,336.3M306.6,333.3L311.1,336.3M322.6,333.3L327.2,336.3M338.7,333.3L343.2,336.3M354.7,333.3L359.3,336.3M370.8,333.3L375.3,336.3M386.9,333.3L391.4,336.3M402.9,333.3L407.4,336.3M419.0,333.3L423.5,336.3M435.0,333.3L439.5,336.3M451.1,333.3L455.6,336.3M467.1,333.3L471.7,336.3M483.2,333.3L487.7,336.3M499.2,333.3L503.8,336.3M515.3,333.3L519.8,336.3M531.3,333.3L535.9,336.3M547.4,333.3L551.9,336.3M563.5,333.3L568.0,336.3M579.5,333.3L584.0,336.3M596.6,332.2L599.9,336.5M612.6,332.2L616.0,336.5M628.7,332.2L632.0,336.5M644.8,332.2L648.1,336.5M660.8,332.2L664.1,336.5M17.6,349.3L22.1,352.2M33.6,349.3L38.2,352.2M49.7,349.3L54.2,352.2M65.8,349.3L70.3,352.2M81.8,349.3L86.3,352.2M97.9,349.3L102.4,352.2M113.9,349.3L118.4,352.2M130.0,349.3L134.5,352.2M146.0,349.3L150.6,352.2M162.1,349.3L166.6,352.2M178.1,349.3L182.7,352.2M194.2,349.3L198.7,352.2M210.2,349.3L214.8,352.2M226.3,349.3L230.8,352.2M242.4,349.3L246.9,352.2M258.4,349.3L262.9,352.2M274.5,349.3L279.0,352.2M290.5,349.3L295.1,352.2M306.6,349.3L311.1,352.2M322.6,349.3L327.2,352.2M338.7,349.3L343.2,352.2M354.7,349.3L359.3,352.2M370.8,349.3L375.3,352.2M386.9,349.3L391.4,352.2M402.9,349.3L407.4,352.2M419.0,349.3L423.5,352.2M435.0,349.3L439.5,352.2M451.1,349.3L455.6,352.2M467.1,349.3L471.7,352.2M483.2,349.3L487.7,352.2M499.2,349.3L503.8,352.2M515.3,349.3L519.8,352.2M531.3,349.3L535.9,352.2M547.4,349.3L551.9,352.2M564.4,348.2L567.8,352.4M580.4,348.2L583.9,352.4M596.6,348.1L599.9,352.4M612.6,348.1L616.0,352.4M628.7,348.1L632.0,352.4M644.8,348.1L648.1,352.4M660.8,348.1L664.1,352.4M17.6,365.2L22.1,368.1M33.6,365.2L38.2,368.1M49.7,365.2L54.2,368.1M65.8,365.2L70.3,368.1M81.8,365.2L86.3,368.1M97.9,365.2L102.4,368.1M113.9,365.2L118.4,368.1M130.0,365.2L134.5,368.1M146.0,365.2L150.6,368.1M162.1,365.2L166.6,368.1M178.1,365.2L182.7,368.1M242.4,365.2L246.9,368.1M258.4,365.2L262.9,368.1M274.5,365.2L279.0,368.1M290.5,365.2L295.1,368.1M306.6,365.2L311.1,368.1M322.6,365.2L327.2,368.1M338.7,365.2L343.2,368.1M354.7,365.2L359.3,368.1M370.8,365.2L375.3,368.1M386.9,365.2L391.4,368.1M402.9,365.2L407.4,368.1M419.0,365.2L423.5,368.1M435.0,365.2L439.5,368.1M451.1,365.2L455.6,368.1M467.1,365.2L471.7,368.1M483.2,365.2L487.7,368.1M499.2,365.2L503.8,368.1M515.3,365.2L519.8,368.1M531.3,365.2L535.9,368.1M547.4,365.2L551.9,368.1M564.4,364.2L567.8,368.3M580.4,364.2L583.9,368.3M596.6,364.1L599.9,368.3M612.6,364.1L616.0,368.3M628.7,364.1L632.0,368.3M644.8,364.1L648.1,368.3M660.8,364.1L664.1,368.3M17.6,381.1L22.1,384.0M33.6,381.1L38.2,384.0M49.7,381.1L54.2,384.0M65.8,381.1L70.3,384.0M81.8,381.1L86.3,384.0M97.9,381.1L102.4,384.0M113.9,381.1L118.4,384.0M130.0,381.1L134.5,384.0M146.0,381.1L150.6,384.0M162.1,381.1L166.6,384.0M178.1,381.1L182.7,384.0M242.4,381.1L246.9,384.0M258.4,381.1L262.9,384.0M274.5,381.1L279.0,384.0M290.5,381.1L295.1,384.0M306.6,381.1L311.1,384.0M322.6,381.1L327.2,384.0M338.7,381.1L343.2,384.0M354.7,381.1L359.3,384.0M370.8,381.1L375.3,384.0M386.9,381.1L391.4,384.0M402.9,381.1L407.4,384.0M419.0,381.1L423.5,384.0M435.0,381.1L439.5,384.0M451.1,381.1L455.6,384.0M467.1,381.1L471.7,384.0M483.2,381.1L487.7,384.0M499.2,381.1L503.8,384.0M515.3,381.1L519.8,384.0M531.3,381.1L535.9,384.0M547.4,381.1L551.9,384.0M564.4,380.1L567.8,384.2M580.4,380.1L583.9,384.2M596.6,380.0L599.9,384.2M612.6,380.0L616.0,384.2M628.7,380.0L632.0,384.2M644.8,380.0L648.1,384.2M660.8,380.0L664.1,384.2M20.6,404.1L21.6,398.7M36.1,403.9L37.7,398.8M50.3,402.8L54.1,399.0M65.2,400.9L70.4,399.3M81.1,398.8L86.5,399.7M97.6,397.6L102.4,399.9M113.9,397.0L118.4,400.0M130.0,397.0L134.5,400.0M146.0,397.0L150.6,400.0M162.1,397.0L166.6,400.0M180.4,403.9L182.3,398.8M242.4,397.0L246.9,400.0M258.4,397.0L262.9,400.0M274.5,397.0L279.0,400.0M290.5,397.0L295.1,400.0M306.6,397.0L311.1,400.0M322.6,397.0L327.2,400.0M338.7,397.0L343.2,400.0M354.7,397.0L359.3,400.0M370.8,397.0L375.3,400.0M386.9,397.0L391.4,400.0M402.9,397.0L407.4,400.0M419.0,397.0L423.5,400.0M435.0,397.0L439.5,400.0M451.1,397.0L455.6,400.0M483.2,397.0L487.7,400.0M499.2,397.0L503.8,400.0M515.3,397.0L519.8,400.0M531.3,397.0L535.9,400.0M547.4,397.0L551.9,400.0M564.4,396.0L567.8,400.1M580.4,396.0L583.9,400.1M596.6,395.9L599.9,400.2M612.6,395.9L616.0,400.2M628.7,395.9L632.0,400.2M644.8,395.9L648.1,400.2M660.8,395.9L664.1,400.2M20.6,420.0L21.6,414.7M36.1,419.8L37.7,414.7M50.3,418.7L54.1,414.9M65.2,416.9L70.4,415.2M81.1,414.7L86.5,415.6M97.6,413.5L102.4,415.8M113.9,412.9L118.4,415.9M130.0,412.9L134.5,415.9M146.0,412.9L150.6,415.9M162.1,412.9L166.6,415.9M180.4,419.8L182.3,414.7M196.5,419.8L198.3,414.7M212.5,419.8L214.4,414.7M226.3,412.9L230.8,415.9M242.4,412.9L246.9,415.9M258.4,412.9L262.9,415.9M274.5,412.9L279.0,415.9M290.5,412.9L295.1,415.9M306.6,412.9L311.1,415.9M322.6,412.9L327.2,415.9M338.7,412.9L343.2,415.9M354.7,412.9L359.3,415.9M370.8,412.9L375.3,415.9M386.9,412.9L391.4,415.9M402.9,412.9L407.4,415.9M419.0,412.9L423.5,415.9M435.0,412.9L439.5,415.9M451.1,412.9L455.6,415.9M483.2,412.9L487.7,415.9M499.2,412.9L503.8,415.9M515.3,412.9L519.8,415.9M531.3,412.9L535.9,415.9M547.4,412.9L551.9,415.9M564.4,411.9L567.8,416.1M580.4,411.9L583.9,416.1M594.8,415.5L600.2,415.5M611.0,414.5L616.3,415.6M627.4,413.5L632.3,415.8M643.1,414.5L648.4,415.6M659.1,414.5L664.4,415.6M18.2,434.6L22.0,430.8M34.2,434.6L38.1,430.8M50.3,434.6L54.1,430.8M66.4,434.6L70.2,430.8M82.4,434.6L86.2,430.8M98.5,434.6L102.3,430.8M113.9,428.9L118.4,431.8M130.0,428.9L134.5,431.8M146.0,428.9L150.6,431.8M162.1,428.9L166.6,431.8M180.4,435.7L182.3,430.6M196.5,435.7L198.3,430.6M212.5,435.7L214.4,430.6M225.9,433.1L230.9,431.1M241.9,433.1L247.0,431.1M258.0,433.1L263.0,431.1M274.1,433.1L279.1,431.1M290.1,433.1L295.1,431.1M306.2,433.1L311.2,431.1M322.2,433.1L327.2,431.1M338.3,433.1L343.3,431.1M354.3,433.1L359.3,431.1M370.4,433.1L375.4,431.1M386.4,433.1L391.5,431.1M402.5,433.1L407.5,431.1M418.6,433.1L423.6,431.1M434.6,433.1L439.6,431.1M451.1,433.9L455.6,430.9M467.1,433.9L471.7,430.9M483.2,433.9L487.7,430.9M499.2,433.9L503.8,430.9M515.3,433.9L519.8,430.9M531.3,433.9L535.9,430.9M547.4,433.9L551.9,430.9M563.5,433.9L568.0,430.9M579.5,433.9L584.0,430.9M594.8,431.4L600.2,431.4M611.0,430.4L616.3,431.5M627.4,429.4L632.3,431.7M643.1,430.4L648.4,431.5M659.1,430.4L664.4,431.5M17.2,449.0L22.2,447.0M33.2,449.0L38.2,447.0M49.3,449.0L54.3,447.0M65.3,449.0L70.4,447.0M81.4,449.0L86.4,447.0M97.5,449.0L102.5,447.0M113.5,449.0L118.5,447.0M129.6,449.0L134.6,447.0M145.6,449.0L150.6,447.0M161.7,449.0L166.7,447.0M180.4,451.6L182.3,446.5M196.5,451.6L198.3,446.5M212.5,451.6L214.4,446.5M225.9,449.0L230.9,447.0M241.9,449.0L247.0,447.0M258.0,449.0L263.0,447.0M274.1,449.0L279.1,447.0M290.1,449.0L295.1,447.0M306.2,449.0L311.2,447.0M322.2,449.0L327.2,447.0M338.3,449.0L343.3,447.0M354.3,449.0L359.3,447.0M370.4,449.0L375.4,447.0M386.4,449.0L391.5,447.0M402.5,449.0L407.5,447.0M418.6,449.0L423.6,447.0M434.6,449.0L439.6,447.0M451.1,449.8L455.6,446.9M467.1,449.8L471.7,446.9M483.2,449.8L487.7,446.9M499.2,449.8L503.8,446.9M515.3,449.8L519.8,446.9M531.3,449.8L535.9,446.9M547.4,449.8L551.9,446.9M563.5,449.8L568.0,446.9M579.5,449.8L584.0,446.9M595.2,445.6L600.2,447.6M611.2,445.6L616.2,447.6M627.3,445.6L632.3,447.6M643.3,445.6L648.3,447.6M659.4,445.6L664.4,447.6M17.2,464.9L22.2,462.9M33.2,464.9L38.2,462.9M49.3,464.9L54.3,462.9M65.3,464.9L70.4,462.9M81.4,464.9L86.4,462.9M97.5,464.9L102.5,462.9M113.5,464.9L118.5,462.9M129.6,464.9L134.6,462.9M145.6,464.9L150.6,462.9M161.7,464.9L166.7,462.9M177.7,464.9L182.7,462.9M193.8,464.9L198.8,462.9M209.8,464.9L214.8,462.9M225.9,464.9L230.9,462.9M241.9,464.9L247.0,462.9M258.0,464.9L263.0,462.9M274.1,464.9L279.1,462.9M290.1,464.9L295.1,462.9M306.2,464.9L311.2,462.9M322.2,464.9L327.2,462.9M338.3,464.9L343.3,462.9M354.3,464.9L359.3,462.9M370.4,464.9L375.4,462.9M386.4,464.9L391.5,462.9M402.5,464.9L407.5,462.9M418.6,464.9L423.6,462.9M434.6,464.9L439.6,462.9M450.4,464.2L455.7,463.0M466.5,464.2L471.8,463.0M482.5,464.2L487.8,463.0M498.6,464.2L503.9,463.0M514.7,464.2L519.9,463.0M530.7,464.2L536.0,463.0M546.8,464.2L552.0,463.0M562.8,464.2L568.1,463.0M578.9,464.2L584.2,463.0M595.2,461.5L600.2,463.5M611.2,461.5L616.2,463.5M627.3,461.5L632.3,463.5M643.3,461.5L648.3,463.5M659.4,461.5L664.4,463.5M17.2,480.9L22.2,478.8M33.2,480.9L38.2,478.8M49.3,480.9L54.3,478.8M65.3,480.9L70.4,478.8M81.4,480.9L86.4,478.8M97.5,480.9L102.5,478.8M113.5,480.9L118.5,478.8M129.6,480.9L134.6,478.8M145.6,480.9L150.6,478.8M161.7,480.9L166.7,478.8M177.7,480.9L182.7,478.8M193.8,480.9L198.8,478.8M209.8,480.9L214.8,478.8M225.9,480.9L230.9,478.8M241.9,480.9L247.0,478.8M258.0,480.9L263.0,478.8M274.1,480.9L279.1,478.8M290.1,480.9L295.1,478.8M306.2,480.9L311.2,478.8M322.2,480.9L327.2,478.8M338.3,480.9L343.3,478.8M354.3,480.9L359.3,478.8M370.4,480.9L375.4,478.8M386.4,480.9L391.5,478.8M402.5,480.9L407.5,478.8M418.6,480.9L423.6,478.8M434.6,480.9L439.6,478.8M450.3,479.1L455.7,479.1M466.4,479.1L471.8,479.1M482.4,479.1L487.8,479.1M498.5,479.1L503.9,479.1M514.6,479.1L520.0,479.1M530.6,479.1L536.0,479.1M546.7,479.1L552.1,479.1M562.7,479.1L568.1,479.1M578.8,479.1L584.2,479.1M594.9,478.3L600.2,479.3M611.1,477.6L616.2,479.4M627.4,477.1L632.2,479.5M643.8,476.5L648.2,479.6M660.2,476.1L664.2,479.7M17.2,496.8L22.2,494.8M33.2,496.8L38.2,494.8M49.3,496.8L54.3,494.8M65.3,496.8L70.4,494.8M81.4,496.8L86.4,494.8M97.5,496.8L102.5,494.8M113.5,496.8L118.5,494.8M129.6,496.8L134.6,494.8M145.6,496.8L150.6,494.8M161.7,496.8L166.7,494.8M177.7,496.8L182.7,494.8M193.8,496.8L198.8,494.8M209.8,496.8L214.8,494.8M225.9,496.8L230.9,494.8M241.9,496.8L247.0,494.8M258.0,496.8L263.0,494.8M274.1,496.8L279.1,494.8M290.1,496.8L295.1,494.8M306.2,496.8L311.2,494.8M322.2,496.8L327.2,494.8M338.3,496.8L343.3,494.8M354.3,496.8L359.3,494.8M370.4,496.8L375.4,494.8M386.4,496.8L391.5,494.8M402.5,496.8L407.5,494.8M418.6,496.8L423.6,494.8M434.6,496.8L439.6,494.8M450.3,495.1L455.7,495.1M466.4,495.1L471.8,495.1M482.4,495.1L487.8,495.1M498.5,495.1L503.9,495.1M514.6,495.1L520.0,495.1M530.6,495.1L536.0,495.1M546.7,495.1L552.1,495.1M562.7,495.1L568.1,495.1M578.8,495.1L584.2,495.1M594.9,494.0L600.2,495.2M611.2,493.4L616.2,495.3M627.5,492.8L632.2,495.4M643.9,492.3L648.2,495.5M660.2,492.0L664.2,495.6M17.2,512.7L22.2,510.7M33.2,512.7L38.2,510.7M49.3,512.7L54.3,510.7M65.3,512.7L70.4,510.7M81.4,512.7L86.4,510.7M97.5,512.7L102.5,510.7M113.5,512.7L118.5,510.7M129.6,512.7L134.6,510.7M145.6,512.7L150.6,510.7M161.7,512.7L166.7,510.7M177.7,512.7L182.7,510.7M193.8,512.7L198.8,510.7M209.8,512.7L214.8,510.7M225.9,512.7L230.9,510.7M241.9,512.7L247.0,510.7M258.0,512.7L263.0,510.7M274.1,512.7L279.1,510.7M290.1,512.7L295.1,510.7M306.2,512.7L311.2,510.7M322.2,512.7L327.2,510.7M338.3,512.7L343.3,510.7M354.3,512.7L359.3,510.7M370.4,512.7L375.4,510.7M386.4,512.7L391.5,510.7M402.5,512.7L407.5,510.7M418.6,512.7L423.6,510.7M434.6,512.7L439.6,510.7M450.3,511.0L455.7,511.0M466.4,511.0L471.8,511.0M482.4,511.0L487.8,511.0M498.5,511.0L503.9,511.0M514.6,511.0L520.0,511.0M530.6,511.0L536.0,511.0M546.7,511.0L552.1,511.0M562.7,511.0L568.1,511.0M578.8,511.0L584.2,511.0M595.0,509.7L600.2,511.2M611.3,509.1L616.2,511.3M627.6,508.6L632.2,511.4M644.0,508.0L648.2,511.5M660.2,507.9L664.2,511.5M17.2,528.6L22.2,526.6M33.2,528.6L38.2,526.6M49.3,528.6L54.3,526.6M65.3,528.6L70.4,526.6M81.4,528.6L86.4,526.6M97.5,528.6L102.5,526.6M113.5,528.6L118.5,526.6M129.6,528.6L134.6,526.6M145.6,528.6L150.6,526.6M161.7,528.6L166.7,526.6M177.7,528.6L182.7,526.6M193.8,528.6L198.8,526.6M209.8,528.6L214.8,526.6M225.9,528.6L230.9,526.6M241.9,528.6L247.0,526.6M258.0,528.6L263.0,526.6M274.1,528.6L279.1,526.6M290.1,528.6L295.1,526.6M306.2,528.6L311.2,526.6M322.2,528.6L327.2,526.6M338.3,528.6L343.3,526.6M354.3,528.6L359.3,526.6M370.4,528.6L375.4,526.6M386.4,528.6L391.5,526.6M402.5,528.6L407.5,526.6M418.6,528.6L423.6,526.6M434.6,528.6L439.6,526.6M450.3,526.9L455.7,526.9M466.4,526.9L471.8,526.9M482.4,526.9L487.8,526.9M498.5,526.9L503.9,526.9M514.6,526.9L520.0,526.9M530.6,526.9L536.0,526.9M546.7,526.9L552.1,526.9M562.7,526.9L568.1,526.9M578.8,526.9L584.2,526.9M595.0,525.5L600.2,527.1M611.3,524.9L616.2,527.2M627.7,524.3L632.2,527.3M644.2,523.8L648.2,527.4M660.2,523.8L664.2,527.4M17.2,544.5L22.2,542.5M33.2,544.5L38.2,542.5M49.3,544.5L54.3,542.5M65.3,544.5L70.4,542.5M81.4,544.5L86.4,542.5M97.5,544.5L102.5,542.5M113.5,544.5L118.5,542.5M129.6,544.5L134.6,542.5M145.6,544.5L150.6,542.5M161.7,544.5L166.7,542.5M177.7,544.5L182.7,542.5M193.8,544.5L198.8,542.5M209.8,544.5L214.8,542.5M225.9,544.5L230.9,542.5M241.9,544.5L247.0,542.5M258.0,544.5L263.0,542.5M274.1,544.5L279.1,542.5M290.1,544.5L295.1,542.5M306.2,544.5L311.2,542.5M322.2,544.5L327.2,542.5M338.3,544.5L343.3,542.5M354.3,544.5L359.3,542.5M370.4,544.5L375.4,542.5M386.4,544.5L391.5,542.5M402.5,544.5L407.5,542.5M418.6,544.5L423.6,542.5M434.6,544.5L439.6,542.5M450.3,542.8L455.7,542.8M466.4,542.8L471.8,542.8M482.4,542.8L487.8,542.8M498.5,542.8L503.9,542.8M514.6,542.8L520.0,542.8M530.6,542.8L536.0,542.8M546.7,542.8L552.1,542.8M562.7,542.8L568.1,542.8M578.8,542.8L584.2,542.8M595.1,541.2L600.2,543.1M611.4,540.6L616.2,543.2M627.8,540.1L632.2,543.3M644.2,539.7L648.2,543.3M660.2,539.7L664.2,543.3M17.2,560.5L22.2,558.4M33.2,560.5L38.2,558.4M49.3,560.5L54.3,558.4M65.3,560.5L70.4,558.4M81.4,560.5L86.4,558.4M97.5,560.5L102.5,558.4M113.5,560.5L118.5,558.4M129.6,560.5L134.6,558.4M145.6,560.5L150.6,558.4M161.7,560.5L166.7,558.4M177.7,560.5L182.7,558.4M193.8,560.5L198.8,558.4M209.8,560.5L214.8,558.4M225.9,560.5L230.9,558.4M241.9,560.5L247.0,558.4M258.0,560.5L263.0,558.4M274.1,560.5L279.1,558.4M290.1,560.5L295.1,558.4M306.2,560.5L311.2,558.4M322.2,560.5L327.2,558.4M338.3,560.5L343.3,558.4M354.3,560.5L359.3,558.4M370.4,560.5L375.4,558.4M386.4,560.5L391.5,558.4M402.5,560.5L407.5,558.4M418.6,560.5L423.6,558.4M434.6,560.5L439.6,558.4M450.3,558.7L455.7,558.7M466.4,558.7L471.8,558.7M482.4,558.7L487.8,558.7M498.5,558.7L503.9,558.7M514.6,558.7L520.0,558.7M530.6,558.7L536.0,558.7M546.7,558.7L552.1,558.7M562.7,558.7L568.1,558.7M578.8,558.7L584.2,558.7M595.2,557.0L600.2,559.0M611.5,556.4L616.2,559.1M627.9,555.8L632.2,559.2M644.2,555.7L648.2,559.3M660.2,555.7L664.2,559.3" stroke="#1c1410" stroke-width="1.2" fill="none" opacity="0.85"/>
<path d="M25.3,242.8L21.2,242.1L23.0,239.4ZM41.4,242.8L37.3,242.1L39.1,239.4ZM57.4,242.8L53.3,242.1L55.1,239.4ZM73.5,242.8L69.4,242.1L71.2,239.4ZM89.5,242.8L85.4,242.1L87.2,239.4ZM105.6,242.8L101.5,242.1L103.3,239.4ZM121.6,242.8L117.5,242.1L119.3,239.4ZM137.7,242.8L133.6,242.1L135.4,239.4ZM153.7,242.8L149.7,242.1L151.5,239.4ZM169.8,242.8L165.7,242.1L167.5,239.4ZM185.9,242.8L181.8,242.1L183.6,239.4ZM201.9,242.8L197.8,242.1L199.6,239.4ZM218.0,242.8L213.9,242.1L215.7,239.4ZM234.0,242.8L229.9,242.1L231.7,239.4ZM250.1,242.8L246.0,242.1L247.8,239.4ZM266.1,242.8L262.0,242.1L263.8,239.4ZM282.2,242.8L278.1,242.1L279.9,239.4ZM298.2,242.8L294.2,242.1L295.9,239.4ZM314.3,242.8L310.2,242.1L312.0,239.4ZM330.3,242.8L326.3,242.1L328.1,239.4ZM346.4,242.8L342.3,242.1L344.1,239.4ZM362.5,242.8L358.4,242.1L360.2,239.4ZM378.5,242.8L374.4,242.1L376.2,239.4ZM394.6,242.8L390.5,242.1L392.3,239.4ZM410.6,242.8L406.5,242.1L408.3,239.4ZM426.7,242.8L422.6,242.1L424.4,239.4ZM442.7,242.8L438.6,242.1L440.4,239.4ZM458.8,242.8L454.7,242.1L456.5,239.4ZM474.8,242.8L470.8,242.1L472.6,239.4ZM490.9,242.8L486.8,242.1L488.6,239.4ZM507.0,242.8L502.9,242.1L504.7,239.4ZM523.0,242.8L518.9,242.1L520.7,239.4ZM539.1,242.8L535.0,242.1L536.8,239.4ZM555.1,242.8L551.0,242.1L552.8,239.4ZM571.2,242.8L567.1,242.1L568.9,239.4ZM587.2,242.8L583.1,242.1L584.9,239.4ZM603.3,242.8L599.2,242.1L601.0,239.4ZM619.3,242.8L615.3,242.1L617.0,239.4ZM635.4,242.8L631.3,242.1L633.1,239.4ZM651.4,242.8L647.4,242.1L649.2,239.4ZM667.5,242.8L663.4,242.1L665.2,239.4ZM25.3,258.8L21.2,258.1L23.0,255.3ZM41.4,258.8L37.3,258.1L39.1,255.3ZM57.4,258.8L53.3,258.1L55.1,255.3ZM73.5,258.8L69.4,258.1L71.2,255.3ZM89.5,258.8L85.4,258.1L87.2,255.3ZM105.6,258.8L101.5,258.1L103.3,255.3ZM121.6,258.8L117.5,258.1L119.3,255.3ZM137.7,258.8L133.6,258.1L135.4,255.3ZM153.7,258.8L149.7,258.1L151.5,255.3ZM169.8,258.8L165.7,258.1L167.5,255.3ZM185.9,258.8L181.8,258.1L183.6,255.3ZM201.9,258.8L197.8,258.1L199.6,255.3ZM218.0,258.8L213.9,258.1L215.7,255.3ZM234.0,258.8L229.9,258.1L231.7,255.3ZM250.1,258.8L246.0,258.1L247.8,255.3ZM266.1,258.8L262.0,258.1L263.8,255.3ZM282.2,258.8L278.1,258.1L279.9,255.3ZM298.2,258.8L294.2,258.1L295.9,255.3ZM314.3,258.8L310.2,258.1L312.0,255.3ZM330.3,258.8L326.3,258.1L328.1,255.3ZM346.4,258.8L342.3,258.1L344.1,255.3ZM362.5,258.8L358.4,258.1L360.2,255.3ZM378.5,258.8L374.4,258.1L376.2,255.3ZM394.6,258.8L390.5,258.1L392.3,255.3ZM410.6,258.8L406.5,258.1L408.3,255.3ZM426.7,258.8L422.6,258.1L424.4,255.3ZM442.7,258.8L438.6,258.1L440.4,255.3ZM458.8,258.8L454.7,258.1L456.5,255.3ZM474.8,258.8L470.8,258.1L472.6,255.3ZM490.9,258.8L486.8,258.1L488.6,255.3ZM507.0,258.8L502.9,258.1L504.7,255.3ZM523.0,258.8L518.9,258.1L520.7,255.3ZM539.1,258.8L535.0,258.1L536.8,255.3ZM555.1,258.8L551.0,258.1L552.8,255.3ZM571.2,258.8L567.1,258.1L568.9,255.3ZM587.2,258.8L583.1,258.1L584.9,255.3ZM603.3,258.8L599.2,258.1L601.0,255.3ZM619.3,258.8L615.3,258.1L617.0,255.3ZM635.4,258.8L631.3,258.1L633.1,255.3ZM651.4,258.8L647.4,258.1L649.2,255.3ZM667.5,258.8L663.4,258.1L665.2,255.3ZM25.3,274.7L21.2,274.0L23.0,271.2ZM41.4,274.7L37.3,274.0L39.1,271.2ZM57.4,274.7L53.3,274.0L55.1,271.2ZM73.5,274.7L69.4,274.0L71.2,271.2ZM89.5,274.7L85.4,274.0L87.2,271.2ZM105.6,274.7L101.5,274.0L103.3,271.2ZM121.6,274.7L117.5,274.0L119.3,271.2ZM137.7,274.7L133.6,274.0L135.4,271.2ZM153.7,274.7L149.7,274.0L151.5,271.2ZM169.8,274.7L165.7,274.0L167.5,271.2ZM185.9,274.7L181.8,274.0L183.6,271.2ZM201.9,274.7L197.8,274.0L199.6,271.2ZM218.0,274.7L213.9,274.0L215.7,271.2ZM234.0,274.7L229.9,274.0L231.7,271.2ZM250.1,274.7L246.0,274.0L247.8,271.2ZM266.1,274.7L262.0,274.0L263.8,271.2ZM282.2,274.7L278.1,274.0L279.9,271.2ZM298.2,274.7L294.2,274.0L295.9,271.2ZM314.3,274.7L310.2,274.0L312.0,271.2ZM330.3,274.7L326.3,274.0L328.1,271.2ZM346.4,274.7L342.3,274.0L344.1,271.2ZM362.5,274.7L358.4,274.0L360.2,271.2ZM378.5,274.7L374.4,274.0L376.2,271.2ZM394.6,274.7L390.5,274.0L392.3,271.2ZM410.6,274.7L406.5,274.0L408.3,271.2ZM426.7,274.7L422.6,274.0L424.4,271.2ZM442.7,274.7L438.6,274.0L440.4,271.2ZM458.8,274.7L454.7,274.0L456.5,271.2ZM474.8,274.7L470.8,274.0L472.6,271.2ZM490.9,274.7L486.8,274.0L488.6,271.2ZM507.0,274.7L502.9,274.0L504.7,271.2ZM523.0,274.7L518.9,274.0L520.7,271.2ZM539.1,274.7L535.0,274.0L536.8,271.2ZM555.1,274.7L551.0,274.0L552.8,271.2ZM571.2,274.7L567.1,274.0L568.9,271.2ZM587.2,274.7L583.1,274.0L584.9,271.2ZM603.3,274.7L599.2,274.0L601.0,271.2ZM619.3,274.7L615.3,274.0L617.0,271.2ZM635.4,274.7L631.3,274.0L633.1,271.2ZM651.4,274.7L647.4,274.0L649.2,271.2ZM667.5,274.7L663.4,274.0L665.2,271.2ZM25.3,290.6L21.2,289.9L23.0,287.1ZM41.4,290.6L37.3,289.9L39.1,287.1ZM57.4,290.6L53.3,289.9L55.1,287.1ZM73.5,290.6L69.4,289.9L71.2,287.1ZM89.5,290.6L85.4,289.9L87.2,287.1ZM105.6,290.6L101.5,289.9L103.3,287.1ZM121.6,290.6L117.5,289.9L119.3,287.1ZM137.7,290.6L133.6,289.9L135.4,287.1ZM153.7,290.6L149.7,289.9L151.5,287.1ZM169.8,290.6L165.7,289.9L167.5,287.1ZM185.9,290.6L181.8,289.9L183.6,287.1ZM201.9,290.6L197.8,289.9L199.6,287.1ZM218.0,290.6L213.9,289.9L215.7,287.1ZM234.0,290.6L229.9,289.9L231.7,287.1ZM250.1,290.6L246.0,289.9L247.8,287.1ZM266.1,290.6L262.0,289.9L263.8,287.1ZM282.2,290.6L278.1,289.9L279.9,287.1ZM298.2,290.6L294.2,289.9L295.9,287.1ZM314.3,290.6L310.2,289.9L312.0,287.1ZM330.3,290.6L326.3,289.9L328.1,287.1ZM346.4,290.6L342.3,289.9L344.1,287.1ZM362.5,290.6L358.4,289.9L360.2,287.1ZM378.5,290.6L374.4,289.9L376.2,287.1ZM394.6,290.6L390.5,289.9L392.3,287.1ZM410.6,290.6L406.5,289.9L408.3,287.1ZM426.7,290.6L422.6,289.9L424.4,287.1ZM442.7,290.6L438.6,289.9L440.4,287.1ZM458.8,290.6L454.7,289.9L456.5,287.1ZM474.8,290.6L470.8,289.9L472.6,287.1ZM490.9,290.6L486.8,289.9L488.6,287.1ZM507.0,290.6L502.9,289.9L504.7,287.1ZM523.0,290.6L518.9,289.9L520.7,287.1ZM539.1,290.6L535.0,289.9L536.8,287.1ZM555.1,290.6L551.0,289.9L552.8,287.1ZM571.2,290.6L567.1,289.9L568.9,287.1ZM587.2,290.6L583.1,289.9L584.9,287.1ZM603.3,290.6L599.2,289.9L601.0,287.1ZM619.3,290.6L615.3,289.9L617.0,287.1ZM635.4,290.6L631.3,289.9L633.1,287.1ZM651.4,290.6L647.4,289.9L649.2,287.1ZM667.5,290.6L663.4,289.9L665.2,287.1ZM25.3,306.5L21.2,305.8L23.0,303.1ZM41.4,306.5L37.3,305.8L39.1,303.1ZM57.4,306.5L53.3,305.8L55.1,303.1ZM73.5,306.5L69.4,305.8L71.2,303.1ZM89.5,306.5L85.4,305.8L87.2,303.1ZM105.6,306.5L101.5,305.8L103.3,303.1ZM121.6,306.5L117.5,305.8L119.3,303.1ZM137.7,306.5L133.6,305.8L135.4,303.1ZM153.7,306.5L149.7,305.8L151.5,303.1ZM169.8,306.5L165.7,305.8L167.5,303.1ZM185.9,306.5L181.8,305.8L183.6,303.1ZM201.9,306.5L197.8,305.8L199.6,303.1ZM218.0,306.5L213.9,305.8L215.7,303.1ZM234.0,306.5L229.9,305.8L231.7,303.1ZM250.1,306.5L246.0,305.8L247.8,303.1ZM266.1,306.5L262.0,305.8L263.8,303.1ZM282.2,306.5L278.1,305.8L279.9,303.1ZM298.2,306.5L294.2,305.8L295.9,303.1ZM314.3,306.5L310.2,305.8L312.0,303.1ZM330.3,306.5L326.3,305.8L328.1,303.1ZM346.4,306.5L342.3,305.8L344.1,303.1ZM362.5,306.5L358.4,305.8L360.2,303.1ZM378.5,306.5L374.4,305.8L376.2,303.1ZM394.6,306.5L390.5,305.8L392.3,303.1ZM410.6,306.5L406.5,305.8L408.3,303.1ZM426.7,306.5L422.6,305.8L424.4,303.1ZM442.7,306.5L438.6,305.8L440.4,303.1ZM458.8,306.5L454.7,305.8L456.5,303.1ZM474.8,306.5L470.8,305.8L472.6,303.1ZM490.9,306.5L486.8,305.8L488.6,303.1ZM507.0,306.5L502.9,305.8L504.7,303.1ZM523.0,306.5L518.9,305.8L520.7,303.1ZM539.1,306.5L535.0,305.8L536.8,303.1ZM555.1,306.5L551.0,305.8L552.8,303.1ZM571.2,306.5L567.1,305.8L568.9,303.1ZM587.2,306.5L583.1,305.8L584.9,303.1ZM603.3,306.5L599.2,305.8L601.0,303.1ZM619.3,306.5L615.3,305.8L617.0,303.1ZM635.4,306.5L631.3,305.8L633.1,303.1ZM651.4,306.5L647.4,305.8L649.2,303.1ZM667.5,306.5L663.4,305.8L665.2,303.1ZM25.3,322.4L21.2,321.7L23.0,319.0ZM41.4,322.4L37.3,321.7L39.1,319.0ZM57.4,322.4L53.3,321.7L55.1,319.0ZM73.5,322.4L69.4,321.7L71.2,319.0ZM89.5,322.4L85.4,321.7L87.2,319.0ZM105.6,322.4L101.5,321.7L103.3,319.0ZM121.6,322.4L117.5,321.7L119.3,319.0ZM137.7,322.4L133.6,321.7L135.4,319.0ZM153.7,322.4L149.7,321.7L151.5,319.0ZM169.8,322.4L165.7,321.7L167.5,319.0ZM185.9,322.4L181.8,321.7L183.6,319.0ZM201.9,322.4L197.8,321.7L199.6,319.0ZM218.0,322.4L213.9,321.7L215.7,319.0ZM234.0,322.4L229.9,321.7L231.7,319.0ZM250.1,322.4L246.0,321.7L247.8,319.0ZM266.1,322.4L262.0,321.7L263.8,319.0ZM282.2,322.4L278.1,321.7L279.9,319.0ZM298.2,322.4L294.2,321.7L295.9,319.0ZM314.3,322.4L310.2,321.7L312.0,319.0ZM330.3,322.4L326.3,321.7L328.1,319.0ZM346.4,322.4L342.3,321.7L344.1,319.0ZM362.5,322.4L358.4,321.7L360.2,319.0ZM378.5,322.4L374.4,321.7L376.2,319.0ZM394.6,322.4L390.5,321.7L392.3,319.0ZM410.6,322.4L406.5,321.7L408.3,319.0ZM426.7,322.4L422.6,321.7L424.4,319.0ZM442.7,322.4L438.6,321.7L440.4,319.0ZM458.8,322.4L454.7,321.7L456.5,319.0ZM474.8,322.4L470.8,321.7L472.6,319.0ZM490.9,322.4L486.8,321.7L488.6,319.0ZM507.0,322.4L502.9,321.7L504.7,319.0ZM523.0,322.4L518.9,321.7L520.7,319.0ZM539.1,322.4L535.0,321.7L536.8,319.0ZM555.1,322.4L551.0,321.7L552.8,319.0ZM571.2,322.4L567.1,321.7L568.9,319.0ZM587.2,322.4L583.1,321.7L584.9,319.0ZM603.3,322.4L599.2,321.7L601.0,319.0ZM619.3,322.4L615.3,321.7L617.0,319.0ZM635.4,322.4L631.3,321.7L633.1,319.0ZM651.4,322.4L647.4,321.7L649.2,319.0ZM667.5,322.4L663.4,321.7L665.2,319.0ZM25.3,338.4L21.2,337.7L23.0,334.9ZM41.4,338.4L37.3,337.7L39.1,334.9ZM57.4,338.4L53.3,337.7L55.1,334.9ZM73.5,338.4L69.4,337.7L71.2,334.9ZM89.5,338.4L85.4,337.7L87.2,334.9ZM105.6,338.4L101.5,337.7L103.3,334.9ZM121.6,338.4L117.5,337.7L119.3,334.9ZM137.7,338.4L133.6,337.7L135.4,334.9ZM153.7,338.4L149.7,337.7L151.5,334.9ZM169.8,338.4L165.7,337.7L167.5,334.9ZM185.9,338.4L181.8,337.7L183.6,334.9ZM201.9,338.4L197.8,337.7L199.6,334.9ZM218.0,338.4L213.9,337.7L215.7,334.9ZM234.0,338.4L229.9,337.7L231.7,334.9ZM250.1,338.4L246.0,337.7L247.8,334.9ZM266.1,338.4L262.0,337.7L263.8,334.9ZM282.2,338.4L278.1,337.7L279.9,334.9ZM298.2,338.4L294.2,337.7L295.9,334.9ZM314.3,338.4L310.2,337.7L312.0,334.9ZM330.3,338.4L326.3,337.7L328.1,334.9ZM346.4,338.4L342.3,337.7L344.1,334.9ZM362.5,338.4L358.4,337.7L360.2,334.9ZM378.5,338.4L374.4,337.7L376.2,334.9ZM394.6,338.4L390.5,337.7L392.3,334.9ZM410.6,338.4L406.5,337.7L408.3,334.9ZM426.7,338.4L422.6,337.7L424.4,334.9ZM442.7,338.4L438.6,337.7L440.4,334.9ZM458.8,338.4L454.7,337.7L456.5,334.9ZM474.8,338.4L470.8,337.7L472.6,334.9ZM490.9,338.4L486.8,337.7L488.6,334.9ZM507.0,338.4L502.9,337.7L504.7,334.9ZM523.0,338.4L518.9,337.7L520.7,334.9ZM539.1,338.4L535.0,337.7L536.8,334.9ZM555.1,338.4L551.0,337.7L552.8,334.9ZM571.2,338.4L567.1,337.7L568.9,334.9ZM587.2,338.4L583.1,337.7L584.9,334.9ZM602.3,339.5L598.6,337.5L601.2,335.5ZM618.3,339.5L614.7,337.5L617.3,335.5ZM634.4,339.5L630.7,337.5L633.3,335.5ZM650.4,339.5L646.8,337.5L649.4,335.5ZM666.5,339.5L662.8,337.5L665.4,335.5ZM25.3,354.3L21.2,353.6L23.0,350.8ZM41.4,354.3L37.3,353.6L39.1,350.8ZM57.4,354.3L53.3,353.6L55.1,350.8ZM73.5,354.3L69.4,353.6L71.2,350.8ZM89.5,354.3L85.4,353.6L87.2,350.8ZM105.6,354.3L101.5,353.6L103.3,350.8ZM121.6,354.3L117.5,353.6L119.3,350.8ZM137.7,354.3L133.6,353.6L135.4,350.8ZM153.7,354.3L149.7,353.6L151.5,350.8ZM169.8,354.3L165.7,353.6L167.5,350.8ZM185.9,354.3L181.8,353.6L183.6,350.8ZM201.9,354.3L197.8,353.6L199.6,350.8ZM218.0,354.3L213.9,353.6L215.7,350.8ZM234.0,354.3L229.9,353.6L231.7,350.8ZM250.1,354.3L246.0,353.6L247.8,350.8ZM266.1,354.3L262.0,353.6L263.8,350.8ZM282.2,354.3L278.1,353.6L279.9,350.8ZM298.2,354.3L294.2,353.6L295.9,350.8ZM314.3,354.3L310.2,353.6L312.0,350.8ZM330.3,354.3L326.3,353.6L328.1,350.8ZM346.4,354.3L342.3,353.6L344.1,350.8ZM362.5,354.3L358.4,353.6L360.2,350.8ZM378.5,354.3L374.4,353.6L376.2,350.8ZM394.6,354.3L390.5,353.6L392.3,350.8ZM410.6,354.3L406.5,353.6L408.3,350.8ZM426.7,354.3L422.6,353.6L424.4,350.8ZM442.7,354.3L438.6,353.6L440.4,350.8ZM458.8,354.3L454.7,353.6L456.5,350.8ZM474.8,354.3L470.8,353.6L472.6,350.8ZM490.9,354.3L486.8,353.6L488.6,350.8ZM507.0,354.3L502.9,353.6L504.7,350.8ZM523.0,354.3L518.9,353.6L520.7,350.8ZM539.1,354.3L535.0,353.6L536.8,350.8ZM555.1,354.3L551.0,353.6L552.8,350.8ZM570.3,355.3L566.6,353.4L569.1,351.3ZM586.3,355.3L582.6,353.4L585.1,351.3ZM602.3,355.4L598.6,353.4L601.2,351.4ZM618.3,355.4L614.7,353.4L617.3,351.4ZM634.4,355.4L630.7,353.4L633.3,351.4ZM650.4,355.4L646.8,353.4L649.4,351.4ZM666.5,355.4L662.8,353.4L665.4,351.4ZM25.3,370.2L21.2,369.5L23.0,366.7ZM41.4,370.2L37.3,369.5L39.1,366.7ZM57.4,370.2L53.3,369.5L55.1,366.7ZM73.5,370.2L69.4,369.5L71.2,366.7ZM89.5,370.2L85.4,369.5L87.2,366.7ZM105.6,370.2L101.5,369.5L103.3,366.7ZM121.6,370.2L117.5,369.5L119.3,366.7ZM137.7,370.2L133.6,369.5L135.4,366.7ZM153.7,370.2L149.7,369.5L151.5,366.7ZM169.8,370.2L165.7,369.5L167.5,366.7ZM185.9,370.2L181.8,369.5L183.6,366.7ZM250.1,370.2L246.0,369.5L247.8,366.7ZM266.1,370.2L262.0,369.5L263.8,366.7ZM282.2,370.2L278.1,369.5L279.9,366.7ZM298.2,370.2L294.2,369.5L295.9,366.7ZM314.3,370.2L310.2,369.5L312.0,366.7ZM330.3,370.2L326.3,369.5L328.1,366.7ZM346.4,370.2L342.3,369.5L344.1,366.7ZM362.5,370.2L358.4,369.5L360.2,366.7ZM378.5,370.2L374.4,369.5L376.2,366.7ZM394.6,370.2L390.5,369.5L392.3,366.7ZM410.6,370.2L406.5,369.5L408.3,366.7ZM426.7,370.2L422.6,369.5L424.4,366.7ZM442.7,370.2L438.6,369.5L440.4,366.7ZM458.8,370.2L454.7,369.5L456.5,366.7ZM474.8,370.2L470.8,369.5L472.6,366.7ZM490.9,370.2L486.8,369.5L488.6,366.7ZM507.0,370.2L502.9,369.5L504.7,366.7ZM523.0,370.2L518.9,369.5L520.7,366.7ZM539.1,370.2L535.0,369.5L536.8,366.7ZM555.1,370.2L551.0,369.5L552.8,366.7ZM570.3,371.2L566.6,369.4L569.1,367.2ZM586.3,371.2L582.6,369.4L585.1,367.2ZM602.3,371.3L598.6,369.3L601.2,367.3ZM618.3,371.3L614.7,369.3L617.3,367.3ZM634.4,371.3L630.7,369.3L633.3,367.3ZM650.4,371.3L646.8,369.3L649.4,367.3ZM666.5,371.3L662.8,369.3L665.4,367.3ZM25.3,386.1L21.2,385.4L23.0,382.7ZM41.4,386.1L37.3,385.4L39.1,382.7ZM57.4,386.1L53.3,385.4L55.1,382.7ZM73.5,386.1L69.4,385.4L71.2,382.7ZM89.5,386.1L85.4,385.4L87.2,382.7ZM105.6,386.1L101.5,385.4L103.3,382.7ZM121.6,386.1L117.5,385.4L119.3,382.7ZM137.7,386.1L133.6,385.4L135.4,382.7ZM153.7,386.1L149.7,385.4L151.5,382.7ZM169.8,386.1L165.7,385.4L167.5,382.7ZM185.9,386.1L181.8,385.4L183.6,382.7ZM250.1,386.1L246.0,385.4L247.8,382.7ZM266.1,386.1L262.0,385.4L263.8,382.7ZM282.2,386.1L278.1,385.4L279.9,382.7ZM298.2,386.1L294.2,385.4L295.9,382.7ZM314.3,386.1L310.2,385.4L312.0,382.7ZM330.3,386.1L326.3,385.4L328.1,382.7ZM346.4,386.1L342.3,385.4L344.1,382.7ZM362.5,386.1L358.4,385.4L360.2,382.7ZM378.5,386.1L374.4,385.4L376.2,382.7ZM394.6,386.1L390.5,385.4L392.3,382.7ZM410.6,386.1L406.5,385.4L408.3,382.7ZM426.7,386.1L422.6,385.4L424.4,382.7ZM442.7,386.1L438.6,385.4L440.4,382.7ZM458.8,386.1L454.7,385.4L456.5,382.7ZM474.8,386.1L470.8,385.4L472.6,382.7ZM490.9,386.1L486.8,385.4L488.6,382.7ZM507.0,386.1L502.9,385.4L504.7,382.7ZM523.0,386.1L518.9,385.4L520.7,382.7ZM539.1,386.1L535.0,385.4L536.8,382.7ZM555.1,386.1L551.0,385.4L552.8,382.7ZM570.3,387.1L566.6,385.3L569.1,383.2ZM586.3,387.1L582.6,385.3L585.1,383.2ZM602.3,387.2L598.6,385.3L601.2,383.2ZM618.3,387.2L614.7,385.3L617.3,383.2ZM634.4,387.2L630.7,385.3L633.3,383.2ZM650.4,387.2L646.8,385.3L649.4,383.2ZM666.5,387.2L662.8,385.3L665.4,383.2ZM22.2,395.0L23.2,399.0L20.0,398.5ZM38.9,395.1L39.3,399.3L36.2,398.3ZM56.8,396.3L55.3,400.1L52.9,397.8ZM74.0,398.1L70.9,400.9L69.9,397.7ZM90.2,400.3L86.2,401.3L86.7,398.0ZM105.9,401.5L101.7,401.4L103.1,398.4ZM121.6,402.0L117.5,401.3L119.3,398.6ZM137.7,402.0L133.6,401.3L135.4,398.6ZM153.7,402.0L149.7,401.3L151.5,398.6ZM169.8,402.0L165.7,401.3L167.5,398.6ZM183.6,395.2L183.8,399.3L180.7,398.2ZM250.1,402.0L246.0,401.3L247.8,398.6ZM266.1,402.0L262.0,401.3L263.8,398.6ZM282.2,402.0L278.1,401.3L279.9,398.6ZM298.2,402.0L294.2,401.3L295.9,398.6ZM314.3,402.0L310.2,401.3L312.0,398.6ZM330.3,402.0L326.3,401.3L328.1,398.6ZM346.4,402.0L342.3,401.3L344.1,398.6ZM362.5,402.0L358.4,401.3L360.2,398.6ZM378.5,402.0L374.4,401.3L376.2,398.6ZM394.6,402.0L390.5,401.3L392.3,398.6ZM410.6,402.0L406.5,401.3L408.3,398.6ZM426.7,402.0L422.6,401.3L424.4,398.6ZM442.7,402.0L438.6,401.3L440.4,398.6ZM458.8,402.0L454.7,401.3L456.5,398.6ZM490.9,402.0L486.8,401.3L488.6,398.6ZM507.0,402.0L502.9,401.3L504.7,398.6ZM523.0,402.0L518.9,401.3L520.7,398.6ZM539.1,402.0L535.0,401.3L536.8,398.6ZM555.1,402.0L551.0,401.3L552.8,398.6ZM570.3,403.1L566.6,401.2L569.1,399.1ZM586.3,403.1L582.6,401.2L585.1,399.1ZM602.3,403.2L598.6,401.2L601.2,399.1ZM618.3,403.2L614.7,401.2L617.3,399.1ZM634.4,403.2L630.7,401.2L633.3,399.1ZM650.4,403.2L646.8,401.2L649.4,399.1ZM666.5,403.2L662.8,401.2L665.4,399.1ZM22.2,410.9L23.2,414.9L20.0,414.4ZM38.9,411.1L39.3,415.2L36.2,414.2ZM56.8,412.2L55.3,416.0L52.9,413.7ZM74.0,414.0L70.9,416.8L69.9,413.6ZM90.2,416.2L86.2,417.2L86.7,414.0ZM105.9,417.4L101.7,417.3L103.1,414.3ZM121.6,418.0L117.5,417.3L119.3,414.5ZM137.7,418.0L133.6,417.3L135.4,414.5ZM153.7,418.0L149.7,417.3L151.5,414.5ZM169.8,418.0L165.7,417.3L167.5,414.5ZM183.6,411.1L183.8,415.3L180.7,414.1ZM199.6,411.1L199.9,415.3L196.8,414.1ZM215.7,411.1L215.9,415.3L212.8,414.1ZM234.0,418.0L229.9,417.3L231.7,414.5ZM250.1,418.0L246.0,417.3L247.8,414.5ZM266.1,418.0L262.0,417.3L263.8,414.5ZM282.2,418.0L278.1,417.3L279.9,414.5ZM298.2,418.0L294.2,417.3L295.9,414.5ZM314.3,418.0L310.2,417.3L312.0,414.5ZM330.3,418.0L326.3,417.3L328.1,414.5ZM346.4,418.0L342.3,417.3L344.1,414.5ZM362.5,418.0L358.4,417.3L360.2,414.5ZM378.5,418.0L374.4,417.3L376.2,414.5ZM394.6,418.0L390.5,417.3L392.3,414.5ZM410.6,418.0L406.5,417.3L408.3,414.5ZM426.7,418.0L422.6,417.3L424.4,414.5ZM442.7,418.0L438.6,417.3L440.4,414.5ZM458.8,418.0L454.7,417.3L456.5,414.5ZM490.9,418.0L486.8,417.3L488.6,414.5ZM507.0,418.0L502.9,417.3L504.7,414.5ZM523.0,418.0L518.9,417.3L520.7,414.5ZM539.1,418.0L535.0,417.3L536.8,414.5ZM555.1,418.0L551.0,417.3L552.8,414.5ZM570.3,419.0L566.6,417.1L569.1,415.0ZM586.3,419.0L582.6,417.1L585.1,415.0ZM604.0,415.5L600.2,417.1L600.2,413.8ZM620.0,416.4L615.9,417.2L616.6,414.0ZM635.7,417.4L631.6,417.3L633.0,414.3ZM652.1,416.4L648.0,417.2L648.7,414.0ZM668.1,416.4L664.1,417.2L664.8,414.0ZM24.7,428.1L23.2,432.0L20.8,429.6ZM40.8,428.1L39.2,432.0L36.9,429.6ZM56.8,428.1L55.3,432.0L53.0,429.6ZM72.9,428.1L71.3,432.0L69.0,429.6ZM88.9,428.1L87.4,432.0L85.1,429.6ZM105.0,428.1L103.5,432.0L101.1,429.6ZM121.6,433.9L117.5,433.2L119.3,430.4ZM137.7,433.9L133.6,433.2L135.4,430.4ZM153.7,433.9L149.7,433.2L151.5,430.4ZM169.8,433.9L165.7,433.2L167.5,430.4ZM183.6,427.0L183.8,431.2L180.7,430.1ZM199.6,427.0L199.9,431.2L196.8,430.1ZM215.7,427.0L215.9,431.2L212.8,430.1ZM234.4,429.6L231.5,432.6L230.3,429.5ZM250.5,429.6L247.6,432.6L246.3,429.5ZM266.5,429.6L263.6,432.6L262.4,429.5ZM282.6,429.6L279.7,432.6L278.4,429.5ZM298.6,429.6L295.7,432.6L294.5,429.5ZM314.7,429.6L311.8,432.6L310.6,429.5ZM330.8,429.6L327.8,432.6L326.6,429.5ZM346.8,429.6L343.9,432.6L342.7,429.5ZM362.9,429.6L360.0,432.6L358.7,429.5ZM378.9,429.6L376.0,432.6L374.8,429.5ZM395.0,429.6L392.1,432.6L390.8,429.5ZM411.0,429.6L408.1,432.6L406.9,429.5ZM427.1,429.6L424.2,432.6L422.9,429.5ZM443.1,429.6L440.2,432.6L439.0,429.5ZM458.8,428.9L456.5,432.3L454.7,429.6ZM474.8,428.9L472.6,432.3L470.8,429.6ZM490.9,428.9L488.6,432.3L486.8,429.6ZM507.0,428.9L504.7,432.3L502.9,429.6ZM523.0,428.9L520.7,432.3L518.9,429.6ZM539.1,428.9L536.8,432.3L535.0,429.6ZM555.1,428.9L552.8,432.3L551.0,429.6ZM571.2,428.9L568.9,432.3L567.1,429.6ZM587.2,428.9L584.9,432.3L583.1,429.6ZM604.0,431.4L600.2,433.0L600.2,429.7ZM620.0,432.4L615.9,433.2L616.6,429.9ZM635.7,433.3L631.6,433.2L633.0,430.2ZM652.1,432.3L648.0,433.2L648.7,429.9ZM668.1,432.3L664.1,433.2L664.8,429.9ZM25.7,445.6L22.8,448.5L21.6,445.5ZM41.8,445.6L38.9,448.5L37.6,445.5ZM57.8,445.6L54.9,448.5L53.7,445.5ZM73.9,445.6L71.0,448.5L69.7,445.5ZM89.9,445.6L87.0,448.5L85.8,445.5ZM106.0,445.6L103.1,448.5L101.8,445.5ZM122.0,445.6L119.1,448.5L117.9,445.5ZM138.1,445.6L135.2,448.5L134.0,445.5ZM154.2,445.6L151.2,448.5L150.0,445.5ZM170.2,445.6L167.3,448.5L166.1,445.5ZM183.6,443.0L183.8,447.1L180.7,446.0ZM199.6,443.0L199.9,447.1L196.8,446.0ZM215.7,443.0L215.9,447.1L212.8,446.0ZM234.4,445.6L231.5,448.5L230.3,445.5ZM250.5,445.6L247.6,448.5L246.3,445.5ZM266.5,445.6L263.6,448.5L262.4,445.5ZM282.6,445.6L279.7,448.5L278.4,445.5ZM298.6,445.6L295.7,448.5L294.5,445.5ZM314.7,445.6L311.8,448.5L310.6,445.5ZM330.8,445.6L327.8,448.5L326.6,445.5ZM346.8,445.6L343.9,448.5L342.7,445.5ZM362.9,445.6L360.0,448.5L358.7,445.5ZM378.9,445.6L376.0,448.5L374.8,445.5ZM395.0,445.6L392.1,448.5L390.8,445.5ZM411.0,445.6L408.1,448.5L406.9,445.5ZM427.1,445.6L424.2,448.5L422.9,445.5ZM443.1,445.6L440.2,448.5L439.0,445.5ZM458.8,444.8L456.5,448.2L454.7,445.5ZM474.8,444.8L472.6,448.2L470.8,445.5ZM490.9,444.8L488.6,448.2L486.8,445.5ZM507.0,444.8L504.7,448.2L502.9,445.5ZM523.0,444.8L520.7,448.2L518.9,445.5ZM539.1,444.8L536.8,448.2L535.0,445.5ZM555.1,444.8L552.8,448.2L551.0,445.5ZM571.2,444.8L568.9,448.2L567.1,445.5ZM587.2,444.8L584.9,448.2L583.1,445.5ZM603.7,449.0L599.5,449.1L600.8,446.1ZM619.7,449.0L615.6,449.1L616.8,446.1ZM635.8,449.0L631.7,449.1L632.9,446.1ZM651.9,449.0L647.7,449.1L648.9,446.1ZM667.9,449.0L663.8,449.1L665.0,446.1ZM25.7,461.5L22.8,464.4L21.6,461.4ZM41.8,461.5L38.9,464.4L37.6,461.4ZM57.8,461.5L54.9,464.4L53.7,461.4ZM73.9,461.5L71.0,464.4L69.7,461.4ZM89.9,461.5L87.0,464.4L85.8,461.4ZM106.0,461.5L103.1,464.4L101.8,461.4ZM122.0,461.5L119.1,464.4L117.9,461.4ZM138.1,461.5L135.2,464.4L134.0,461.4ZM154.2,461.5L151.2,464.4L150.0,461.4ZM170.2,461.5L167.3,464.4L166.1,461.4ZM186.3,461.5L183.4,464.4L182.1,461.4ZM202.3,461.5L199.4,464.4L198.2,461.4ZM218.4,461.5L215.5,464.4L214.2,461.4ZM234.4,461.5L231.5,464.4L230.3,461.4ZM250.5,461.5L247.6,464.4L246.3,461.4ZM266.5,461.5L263.6,464.4L262.4,461.4ZM282.6,461.5L279.7,464.4L278.4,461.4ZM298.6,461.5L295.7,464.4L294.5,461.4ZM314.7,461.5L311.8,464.4L310.6,461.4ZM330.8,461.5L327.8,464.4L326.6,461.4ZM346.8,461.5L343.9,464.4L342.7,461.4ZM362.9,461.5L360.0,464.4L358.7,461.4ZM378.9,461.5L376.0,464.4L374.8,461.4ZM395.0,461.5L392.1,464.4L390.8,461.4ZM411.0,461.5L408.1,464.4L406.9,461.4ZM427.1,461.5L424.2,464.4L422.9,461.4ZM443.1,461.5L440.2,464.4L439.0,461.4ZM459.4,462.3L456.1,464.7L455.4,461.4ZM475.5,462.3L472.1,464.7L471.4,461.4ZM491.5,462.3L488.2,464.7L487.5,461.4ZM507.6,462.3L504.2,464.7L503.5,461.4ZM523.6,462.3L520.3,464.7L519.6,461.4ZM539.7,462.3L536.3,464.7L535.6,461.4ZM555.8,462.3L552.4,464.7L551.7,461.4ZM571.8,462.3L568.4,464.7L567.8,461.4ZM587.9,462.3L584.5,464.7L583.8,461.4ZM603.7,464.9L599.5,465.0L600.8,462.0ZM619.7,464.9L615.6,465.0L616.8,462.0ZM635.8,464.9L631.7,465.0L632.9,462.0ZM651.9,464.9L647.7,465.0L648.9,462.0ZM667.9,464.9L663.8,465.0L665.0,462.0ZM25.7,477.4L22.8,480.4L21.6,477.3ZM41.8,477.4L38.9,480.4L37.6,477.3ZM57.8,477.4L54.9,480.4L53.7,477.3ZM73.9,477.4L71.0,480.4L69.7,477.3ZM89.9,477.4L87.0,480.4L85.8,477.3ZM106.0,477.4L103.1,480.4L101.8,477.3ZM122.0,477.4L119.1,480.4L117.9,477.3ZM138.1,477.4L135.2,480.4L134.0,477.3ZM154.2,477.4L151.2,480.4L150.0,477.3ZM170.2,477.4L167.3,480.4L166.1,477.3ZM186.3,477.4L183.4,480.4L182.1,477.3ZM202.3,477.4L199.4,480.4L198.2,477.3ZM218.4,477.4L215.5,480.4L214.2,477.3ZM234.4,477.4L231.5,480.4L230.3,477.3ZM250.5,477.4L247.6,480.4L246.3,477.3ZM266.5,477.4L263.6,480.4L262.4,477.3ZM282.6,477.4L279.7,480.4L278.4,477.3ZM298.6,477.4L295.7,480.4L294.5,477.3ZM314.7,477.4L311.8,480.4L310.6,477.3ZM330.8,477.4L327.8,480.4L326.6,477.3ZM346.8,477.4L343.9,480.4L342.7,477.3ZM362.9,477.4L360.0,480.4L358.7,477.3ZM378.9,477.4L376.0,480.4L374.8,477.3ZM395.0,477.4L392.1,480.4L390.8,477.3ZM411.0,477.4L408.1,480.4L406.9,477.3ZM427.1,477.4L424.2,480.4L422.9,477.3ZM443.1,477.4L440.2,480.4L439.0,477.3ZM459.5,479.1L455.7,480.8L455.7,477.5ZM475.6,479.1L471.8,480.8L471.8,477.5ZM491.6,479.1L487.8,480.8L487.8,477.5ZM507.7,479.1L503.9,480.8L503.9,477.5ZM523.8,479.1L520.0,480.8L520.0,477.5ZM539.8,479.1L536.0,480.8L536.0,477.5ZM555.9,479.1L552.1,480.8L552.1,477.5ZM571.9,479.1L568.1,480.8L568.1,477.5ZM588.0,479.1L584.2,480.8L584.2,477.5ZM603.9,480.0L599.9,480.9L600.5,477.7ZM619.8,480.6L615.7,480.9L616.8,477.8ZM635.6,481.2L631.5,481.0L633.0,478.0ZM651.4,481.8L647.3,480.9L649.2,478.2ZM667.1,482.2L663.1,480.9L665.3,478.4ZM25.7,493.3L22.8,496.3L21.6,493.2ZM41.8,493.3L38.9,496.3L37.6,493.2ZM57.8,493.3L54.9,496.3L53.7,493.2ZM73.9,493.3L71.0,496.3L69.7,493.2ZM89.9,493.3L87.0,496.3L85.8,493.2ZM106.0,493.3L103.1,496.3L101.8,493.2ZM122.0,493.3L119.1,496.3L117.9,493.2ZM138.1,493.3L135.2,496.3L134.0,493.2ZM154.2,493.3L151.2,496.3L150.0,493.2ZM170.2,493.3L167.3,496.3L166.1,493.2ZM186.3,493.3L183.4,496.3L182.1,493.2ZM202.3,493.3L199.4,496.3L198.2,493.2ZM218.4,493.3L215.5,496.3L214.2,493.2ZM234.4,493.3L231.5,496.3L230.3,493.2ZM250.5,493.3L247.6,496.3L246.3,493.2ZM266.5,493.3L263.6,496.3L262.4,493.2ZM282.6,493.3L279.7,496.3L278.4,493.2ZM298.6,493.3L295.7,496.3L294.5,493.2ZM314.7,493.3L311.8,496.3L310.6,493.2ZM330.8,493.3L327.8,496.3L326.6,493.2ZM346.8,493.3L343.9,496.3L342.7,493.2ZM362.9,493.3L360.0,496.3L358.7,493.2ZM378.9,493.3L376.0,496.3L374.8,493.2ZM395.0,493.3L392.1,496.3L390.8,493.2ZM411.0,493.3L408.1,496.3L406.9,493.2ZM427.1,493.3L424.2,496.3L422.9,493.2ZM443.1,493.3L440.2,496.3L439.0,493.2ZM459.5,495.1L455.7,496.7L455.7,493.4ZM475.6,495.1L471.8,496.7L471.8,493.4ZM491.6,495.1L487.8,496.7L487.8,493.4ZM507.7,495.1L503.9,496.7L503.9,493.4ZM523.8,495.1L520.0,496.7L520.0,493.4ZM539.8,495.1L536.0,496.7L536.0,493.4ZM555.9,495.1L552.1,496.7L552.1,493.4ZM571.9,495.1L568.1,496.7L568.1,493.4ZM588.0,495.1L584.2,496.7L584.2,493.4ZM603.9,496.1L599.8,496.8L600.6,493.6ZM619.8,496.7L615.6,496.9L616.8,493.8ZM635.5,497.3L631.4,496.9L633.0,494.0ZM651.3,497.8L647.2,496.8L649.2,494.2ZM667.1,498.1L663.1,496.8L665.3,494.4ZM25.7,509.2L22.8,512.2L21.6,509.1ZM41.8,509.2L38.9,512.2L37.6,509.1ZM57.8,509.2L54.9,512.2L53.7,509.1ZM73.9,509.2L71.0,512.2L69.7,509.1ZM89.9,509.2L87.0,512.2L85.8,509.1ZM106.0,509.2L103.1,512.2L101.8,509.1ZM122.0,509.2L119.1,512.2L117.9,509.1ZM138.1,509.2L135.2,512.2L134.0,509.1ZM154.2,509.2L151.2,512.2L150.0,509.1ZM170.2,509.2L167.3,512.2L166.1,509.1ZM186.3,509.2L183.4,512.2L182.1,509.1ZM202.3,509.2L199.4,512.2L198.2,509.1ZM218.4,509.2L215.5,512.2L214.2,509.1ZM234.4,509.2L231.5,512.2L230.3,509.1ZM250.5,509.2L247.6,512.2L246.3,509.1ZM266.5,509.2L263.6,512.2L262.4,509.1ZM282.6,509.2L279.7,512.2L278.4,509.1ZM298.6,509.2L295.7,512.2L294.5,509.1ZM314.7,509.2L311.8,512.2L310.6,509.1ZM330.8,509.2L327.8,512.2L326.6,509.1ZM346.8,509.2L343.9,512.2L342.7,509.1ZM362.9,509.2L360.0,512.2L358.7,509.1ZM378.9,509.2L376.0,512.2L374.8,509.1ZM395.0,509.2L392.1,512.2L390.8,509.1ZM411.0,509.2L408.1,512.2L406.9,509.1ZM427.1,509.2L424.2,512.2L422.9,509.1ZM443.1,509.2L440.2,512.2L439.0,509.1ZM459.5,511.0L455.7,512.6L455.7,509.3ZM475.6,511.0L471.8,512.6L471.8,509.3ZM491.6,511.0L487.8,512.6L487.8,509.3ZM507.7,511.0L503.9,512.6L503.9,509.3ZM523.8,511.0L520.0,512.6L520.0,509.3ZM539.8,511.0L536.0,512.6L536.0,509.3ZM555.9,511.0L552.1,512.6L552.1,509.3ZM571.9,511.0L568.1,512.6L568.1,509.3ZM588.0,511.0L584.2,512.6L584.2,509.3ZM603.9,512.2L599.8,512.8L600.6,509.6ZM619.7,512.8L615.6,512.8L616.9,509.8ZM635.5,513.4L631.4,512.8L633.1,510.0ZM651.1,513.9L647.2,512.8L649.3,510.2ZM667.1,514.0L663.1,512.7L665.3,510.3ZM25.7,525.2L22.8,528.1L21.6,525.1ZM41.8,525.2L38.9,528.1L37.6,525.1ZM57.8,525.2L54.9,528.1L53.7,525.1ZM73.9,525.2L71.0,528.1L69.7,525.1ZM89.9,525.2L87.0,528.1L85.8,525.1ZM106.0,525.2L103.1,528.1L101.8,525.1ZM122.0,525.2L119.1,528.1L117.9,525.1ZM138.1,525.2L135.2,528.1L134.0,525.1ZM154.2,525.2L151.2,528.1L150.0,525.1ZM170.2,525.2L167.3,528.1L166.1,525.1ZM186.3,525.2L183.4,528.1L182.1,525.1ZM202.3,525.2L199.4,528.1L198.2,525.1ZM218.4,525.2L215.5,528.1L214.2,525.1ZM234.4,525.2L231.5,528.1L230.3,525.1ZM250.5,525.2L247.6,528.1L246.3,525.1ZM266.5,525.2L263.6,528.1L262.4,525.1ZM282.6,525.2L279.7,528.1L278.4,525.1ZM298.6,525.2L295.7,528.1L294.5,525.1ZM314.7,525.2L311.8,528.1L310.6,525.1ZM330.8,525.2L327.8,528.1L326.6,525.1ZM346.8,525.2L343.9,528.1L342.7,525.1ZM362.9,525.2L360.0,528.1L358.7,525.1ZM378.9,525.2L376.0,528.1L374.8,525.1ZM395.0,525.2L392.1,528.1L390.8,525.1ZM411.0,525.2L408.1,528.1L406.9,525.1ZM427.1,525.2L424.2,528.1L422.9,525.1ZM443.1,525.2L440.2,528.1L439.0,525.1ZM459.5,526.9L455.7,528.5L455.7,525.2ZM475.6,526.9L471.8,528.5L471.8,525.2ZM491.6,526.9L487.8,528.5L487.8,525.2ZM507.7,526.9L503.9,528.5L503.9,525.2ZM523.8,526.9L520.0,528.5L520.0,525.2ZM539.8,526.9L536.0,528.5L536.0,525.2ZM555.9,526.9L552.1,528.5L552.1,525.2ZM571.9,526.9L568.1,528.5L568.1,525.2ZM588.0,526.9L584.2,528.5L584.2,525.2ZM603.8,528.3L599.7,528.7L600.7,525.6ZM619.6,528.9L615.5,528.7L616.9,525.8ZM635.3,529.5L631.3,528.7L633.1,526.0ZM651.0,530.0L647.1,528.7L649.3,526.2ZM667.1,530.0L663.1,528.7L665.3,526.2ZM25.7,541.1L22.8,544.0L21.6,541.0ZM41.8,541.1L38.9,544.0L37.6,541.0ZM57.8,541.1L54.9,544.0L53.7,541.0ZM73.9,541.1L71.0,544.0L69.7,541.0ZM89.9,541.1L87.0,544.0L85.8,541.0ZM106.0,541.1L103.1,544.0L101.8,541.0ZM122.0,541.1L119.1,544.0L117.9,541.0ZM138.1,541.1L135.2,544.0L134.0,541.0ZM154.2,541.1L151.2,544.0L150.0,541.0ZM170.2,541.1L167.3,544.0L166.1,541.0ZM186.3,541.1L183.4,544.0L182.1,541.0ZM202.3,541.1L199.4,544.0L198.2,541.0ZM218.4,541.1L215.5,544.0L214.2,541.0ZM234.4,541.1L231.5,544.0L230.3,541.0ZM250.5,541.1L247.6,544.0L246.3,541.0ZM266.5,541.1L263.6,544.0L262.4,541.0ZM282.6,541.1L279.7,544.0L278.4,541.0ZM298.6,541.1L295.7,544.0L294.5,541.0ZM314.7,541.1L311.8,544.0L310.6,541.0ZM330.8,541.1L327.8,544.0L326.6,541.0ZM346.8,541.1L343.9,544.0L342.7,541.0ZM362.9,541.1L360.0,544.0L358.7,541.0ZM378.9,541.1L376.0,544.0L374.8,541.0ZM395.0,541.1L392.1,544.0L390.8,541.0ZM411.0,541.1L408.1,544.0L406.9,541.0ZM427.1,541.1L424.2,544.0L422.9,541.0ZM443.1,541.1L440.2,544.0L439.0,541.0ZM459.5,542.8L455.7,544.5L455.7,541.2ZM475.6,542.8L471.8,544.5L471.8,541.2ZM491.6,542.8L487.8,544.5L487.8,541.2ZM507.7,542.8L503.9,544.5L503.9,541.2ZM523.8,542.8L520.0,544.5L520.0,541.2ZM539.8,542.8L536.0,544.5L536.0,541.2ZM555.9,542.8L552.1,544.5L552.1,541.2ZM571.9,542.8L568.1,544.5L568.1,541.2ZM588.0,542.8L584.2,544.5L584.2,541.2ZM603.7,544.4L599.6,544.6L600.7,541.5ZM619.5,545.0L615.4,544.6L617.0,541.7ZM635.2,545.5L631.2,544.6L633.2,542.0ZM651.0,545.9L647.1,544.6L649.3,542.1ZM667.1,545.9L663.1,544.6L665.3,542.1ZM25.7,557.0L22.8,560.0L21.6,556.9ZM41.8,557.0L38.9,560.0L37.6,556.9ZM57.8,557.0L54.9,560.0L53.7,556.9ZM73.9,557.0L71.0,560.0L69.7,556.9ZM89.9,557.0L87.0,560.0L85.8,556.9ZM106.0,557.0L103.1,560.0L101.8,556.9ZM122.0,557.0L119.1,560.0L117.9,556.9ZM138.1,557.0L135.2,560.0L134.0,556.9ZM154.2,557.0L151.2,560.0L150.0,556.9ZM170.2,557.0L167.3,560.0L166.1,556.9ZM186.3,557.0L183.4,560.0L182.1,556.9ZM202.3,557.0L199.4,560.0L198.2,556.9ZM218.4,557.0L215.5,560.0L214.2,556.9ZM234.4,557.0L231.5,560.0L230.3,556.9ZM250.5,557.0L247.6,560.0L246.3,556.9ZM266.5,557.0L263.6,560.0L262.4,556.9ZM282.6,557.0L279.7,560.0L278.4,556.9ZM298.6,557.0L295.7,560.0L294.5,556.9ZM314.7,557.0L311.8,560.0L310.6,556.9ZM330.8,557.0L327.8,560.0L326.6,556.9ZM346.8,557.0L343.9,560.0L342.7,556.9ZM362.9,557.0L360.0,560.0L358.7,556.9ZM378.9,557.0L376.0,560.0L374.8,556.9ZM395.0,557.0L392.1,560.0L390.8,556.9ZM411.0,557.0L408.1,560.0L406.9,556.9ZM427.1,557.0L424.2,560.0L422.9,556.9ZM443.1,557.0L440.2,560.0L439.0,556.9ZM459.5,558.7L455.7,560.4L455.7,557.1ZM475.6,558.7L471.8,560.4L471.8,557.1ZM491.6,558.7L487.8,560.4L487.8,557.1ZM507.7,558.7L503.9,560.4L503.9,557.1ZM523.8,558.7L520.0,560.4L520.0,557.1ZM539.8,558.7L536.0,560.4L536.0,557.1ZM555.9,558.7L552.1,560.4L552.1,557.1ZM571.9,558.7L568.1,560.4L568.1,557.1ZM588.0,558.7L584.2,560.4L584.2,557.1ZM603.7,560.5L599.5,560.6L600.8,557.5ZM619.4,561.1L615.3,560.6L617.0,557.7ZM635.1,561.6L631.1,560.5L633.2,557.9ZM651.0,561.8L647.1,560.5L649.3,558.0ZM667.1,561.8L663.1,560.5L665.3,558.0Z" fill="#1c1410" opacity="0.85"/>
<path d="M18,349 L29,350 L37.5,356 L44,362.5 L44,369 L37.5,375 L31,380 L18,385Z" fill="#7f7f7f" stroke="#111" stroke-width="1.3" stroke-linejoin="round"/>
<path d="M18,421 L27,422 L30,427 L27,432 L18,433Z" fill="#7f7f7f" stroke="#111" stroke-width="1.3" stroke-linejoin="round"/>
<path d="M100,370 L107.5,367.5 L110,362.5 L119,357.5 L125,352.5 L130,347 L142,341 L152,338 L160,340 L175,343 L187,347 L200,351 L206,357 L210,364 L207,372 L202,377 L200,387 L197,396 L191,405 L186,412 L180,421 L174,430 L172,437 L173,441 L166,449 L160,451 L155,452 L145,449 L125,449 L120,449 L112.5,445 L106,444 L100,442.5 L95,445 L87.5,442.5 L80,439 L70,436 L65,431 L65,424 L67.5,420 L72.5,420 L75,424.5 L88,424.5 L102.5,424 L106,421 L105,419 L100,416 L101,412.5 L102.5,400 L101,387.5 L99,382.5 L97.5,375Z" fill="#7f7f7f" stroke="#111" stroke-width="1.3" stroke-linejoin="round"/>
<path d="M290,366 L302.5,372.5 L315,377.5 L320,379 L321,370 L325,367 L331,366.5 L340,368 L342.5,371 L344,380 L346,385 L349,375 L352.5,377.5 L354,387.5 L360,394 L370,396 L375,400 L375,405 L380,417 L395,415 L400,420 L406,422 L412.5,416 L417.5,410 L425,407 L437.5,407.5 L445,408 L455,407.5 L459,402.5 L456,397.5 L450,391 L446,394 L441,390 L432.5,382.5 L425,378 L412.5,377.5 L400,372.5 L397.5,372.5 L387.5,365 L377.5,355 L370,346 L365,337.5 L367.5,330 L377.5,325 L390,320 L400,316.5 L407.5,320 L419,320 L430,322.5 L436,329 L440,340 L446,350 L450,356 L456,360 L464,362.5 L470,359 L474,354 L480,349 L487.5,344 L492.5,344 L500,347.5 L512.5,350 L517.5,352.5 L521,359 L524,366 L522.5,372.5 L517.5,387.5 L520,390 L526,377.5 L527.5,367.5 L530,359 L535,354 L542.5,350.6 L555,350.6 L567.5,352 L571,355 L572.5,362.5 L575,370 L579,377.5 L580,385 L577.5,392.5 L579,402.5 L584,407 L592.5,404 L597.5,395 L601,396 L604,402.5 L600,411 L601,416 L592.5,422.5 L585,421 L580,422.5 L571,424 L566,422.5 L561,419 L556,414 L551,418 L542.5,417.5 L532.5,417.5 L525,422.5 L525,425 L532.5,428 L546,430 L556,431 L562.5,432 L564,435 L562.5,438 L556,439 L546,439 L540,436 L532.5,432 L525,431 L517.5,432.5 L507.5,436 L497.5,441 L490,444 L482.5,442.5 L476,439 L472.5,432.5 L474,427.5 L477.5,422.5 L482,414 L481,405 L477.5,396 L475,402.5 L474,410 L465,415 L461,421 L455,427.5 L447.5,434 L437.5,441 L431,442 L425,439 L416,440 L411,445 L402.5,449 L394,453 L387.5,451 L384,449 L379,453 L374,452.5 L369,449 L360,452.5 L350,457.5 L340,464 L327.5,468 L315,471 L305,472.5 L295,469 L286,467 L280,468 L275,472.5 L270,479 L262.5,480 L254,480 L250,477.5 L245,474 L230,471 L220,467.5 L212.5,464 L210,460 L209,452.5 L209,446 L211,440 L217.5,436 L222.5,431 L220,425 L215,420 L215,406 L217,399 L225,394 L227,386 L237,387 L250,382 L262,375 L270,369 L281,362 L287,365Z" fill="#7f7f7f" stroke="#111" stroke-width="1.3" stroke-linejoin="round"/>
<path d="M330,334 L340,328 L357.5,328 L363,332.5 L361,336 L355,341 L349,350 L345,357.5 L341,364 L336,365 L331,361 L332.5,352.5 L329,344Z" fill="#7f7f7f" stroke="#111" stroke-width="1.3" stroke-linejoin="round"/>
<path d="M617,370.5 L620,369 L623,370.5 L622.5,374 L619,375 L616.5,373Z" fill="#7f7f7f" stroke="#111" stroke-width="1.3" stroke-linejoin="round"/>
<path d="M640,375 L645,374 L647.5,380 L660,381 L662.5,386 L661,390 L664,394 L655,395 L650,397 L645,400 L642.5,410 L645,420 L640,422.5 L632.5,420 L634,416 L636,407.5 L632.5,402.5 L634,392.5 L639,386Z" fill="#7f7f7f" stroke="#111" stroke-width="1.3" stroke-linejoin="round"/>
<path d="M562,565 L562,550 L565,543 L570,537 L577,531 L585,527 L600,525 L612,524 L630,522.5 L650,522.5 L674,520 L674,565Z" fill="#7f7f7f" stroke="#111" stroke-width="1.3" stroke-linejoin="round"/>
<path d="M156,449.5L156.5,442L160,437.5L166,438L165,443.5L161.5,450Z" fill="#fff" stroke="#111" stroke-width="0.8"/>
<path d="M157.5,448L158.5,442L161,439.5L160,448ZM162,447L163.5,440L165,440L163.5,447Z" fill="#2f7be0"/>
<path d="M522.5,371.5L526.3,374L521.6,390L517,388Z" fill="#fff" stroke="#111" stroke-width="1.2"/>
<path d="M476.5,439.5L482.5,443L490,444.6L497,442.2L497.5,443.6L490,446.2L482,444.6L475.8,441Z" fill="#fff"/>
<circle cx="371" cy="321.3" r="2.3" fill="#111"/><circle cx="477.5" cy="398" r="1.4" fill="#111"/>
<path d="M75,420.2H87.5V424H76ZM99,418.5L106,419L104,423.5L100,422Z" fill="#fff"/>
<path d="M562,551Q563,541 572,534.5L574,536Q566,542 564,551Z" fill="#fff"/>
<ellipse cx="312.6" cy="327.6" rx="4.6" ry="1.9" transform="rotate(-16 312.6 327.6)" fill="#fff" stroke="#111" stroke-width="1.3"/>
<circle cx="584.4" cy="336" r="9.4" fill="#7f7f7f" stroke="#111" stroke-width="1.1"/>
<path d="M586.4,324.40000000000003 A11.600000000000001,11.600000000000001 0 0 0 581.4,346.9" fill="none" stroke="#111" stroke-width="1"/>
<path d="M585.4,325.5 A10.5,10.5 0 0 0 581.9,346.0" fill="none" stroke="#fff" stroke-width="1.1"/>
<path d="M92,240.4V560M252.5,240.4V560M412,240.4V560M572,240.4V560M23.6,264H667.7M23.6,304H667.7M23.6,344H667.7M23.6,384H667.7M23.6,424H667.7M23.6,464H667.7M23.6,504H667.7M23.6,544H667.7" stroke="#fff" stroke-opacity="0.13" stroke-width="1" fill="none"/>
<path d="M107.5,362 L107.5,321 L150,307.5 L216.5,320 L216.5,363 L280,363" fill="none" stroke="#111" stroke-width="1.2" stroke-linejoin="round"/>
<path d="M216.5,320 L282,304 L305,296 L340,291 L375,287.5 L400,286 L425,289 L440,294 L455,300 L470,305 L487.5,311 L502.5,316 L520,320 L532.5,317.5 L542.5,313 L552.5,306 L560,300 L567,296 L575,293.5 L585,293.5 L595,295.5 L602.5,300 L610,305 L615,311 L620,321 L622.5,332.5 L621,342.5 L616,355 L610,367.5 L604,380 L597.5,392.5 L595,402 L593.5,412 L593,423" fill="none" stroke="#111" stroke-width="1.2" stroke-linejoin="round"/>
<path d="M192,405 L215,405" fill="none" stroke="#111" stroke-width="1.2" stroke-linejoin="round"/>
<path d="M69,436 L69,479 L184,499.5 L252.5,512.5 L300,507.5 L350,499 L400,491 L450,482.5 L475,479 L500,474 L525,470 L550,466 L565,464 L580,458.5 L593,452.5 L593,422.5" fill="none" stroke="#111" stroke-width="1.2" stroke-linejoin="round"/>
<path d="M152.5,454 L152.5,462.5 L209,462.5" fill="none" stroke="#111" stroke-width="1.2" stroke-linejoin="round"/>
<path d="M183.5,462.5 L183.5,499.5" fill="none" stroke="#111" stroke-width="1.2" stroke-linejoin="round"/>
</g></g>
<rect x="23.6" y="240.4" width="644.1" height="319.6" fill="none" stroke="#2a2a2a" stroke-width="1"/>
<text x="-14.44" y="267.7" font-family="'Liberation Mono','DejaVu Sans Mono',monospace" font-size="9.8" font-weight="bold" font-style="normal" fill="#3a3a3a" text-anchor="start" textLength="32.04" lengthAdjust="spacingAndGlyphs">7.75°S</text>
<text x="1.58" y="307.7" font-family="'Liberation Mono','DejaVu Sans Mono',monospace" font-size="9.8" font-weight="bold" font-style="normal" fill="#3a3a3a" text-anchor="start" textLength="16.02" lengthAdjust="spacingAndGlyphs">8°S</text>
<text x="-14.44" y="347.7" font-family="'Liberation Mono','DejaVu Sans Mono',monospace" font-size="9.8" font-weight="bold" font-style="normal" fill="#3a3a3a" text-anchor="start" textLength="32.04" lengthAdjust="spacingAndGlyphs">8.25°S</text>
<text x="-9.1" y="387.7" font-family="'Liberation Mono','DejaVu Sans Mono',monospace" font-size="9.8" font-weight="bold" font-style="normal" fill="#3a3a3a" text-anchor="start" textLength="26.7" lengthAdjust="spacingAndGlyphs">8.5°S</text>
<text x="-14.44" y="427.7" font-family="'Liberation Mono','DejaVu Sans Mono',monospace" font-size="9.8" font-weight="bold" font-style="normal" fill="#3a3a3a" text-anchor="start" textLength="32.04" lengthAdjust="spacingAndGlyphs">8.75°S</text>
<text x="1.58" y="467.7" font-family="'Liberation Mono','DejaVu Sans Mono',monospace" font-size="9.8" font-weight="bold" font-style="normal" fill="#3a3a3a" text-anchor="start" textLength="16.02" lengthAdjust="spacingAndGlyphs">9°S</text>
<text x="-14.44" y="507.7" font-family="'Liberation Mono','DejaVu Sans Mono',monospace" font-size="9.8" font-weight="bold" font-style="normal" fill="#3a3a3a" text-anchor="start" textLength="32.04" lengthAdjust="spacingAndGlyphs">9.25°S</text>
<text x="-9.1" y="547.7" font-family="'Liberation Mono','DejaVu Sans Mono',monospace" font-size="9.8" font-weight="bold" font-style="normal" fill="#3a3a3a" text-anchor="start" textLength="26.7" lengthAdjust="spacingAndGlyphs">9.5°S</text>
<text x="78.4" y="573" font-family="'Liberation Mono','DejaVu Sans Mono',monospace" font-size="10.6" font-weight="bold" font-style="normal" fill="#3a3a3a" text-anchor="start" textLength="26.9" lengthAdjust="spacingAndGlyphs">116°E</text>
<text x="238.9" y="573" font-family="'Liberation Mono','DejaVu Sans Mono',monospace" font-size="10.6" font-weight="bold" font-style="normal" fill="#3a3a3a" text-anchor="start" textLength="26.9" lengthAdjust="spacingAndGlyphs">117°E</text>
<text x="398.4" y="573" font-family="'Liberation Mono','DejaVu Sans Mono',monospace" font-size="10.6" font-weight="bold" font-style="normal" fill="#3a3a3a" text-anchor="start" textLength="26.9" lengthAdjust="spacingAndGlyphs">118°E</text>
<text x="558.4" y="573" font-family="'Liberation Mono','DejaVu Sans Mono',monospace" font-size="10.6" font-weight="bold" font-style="normal" fill="#3a3a3a" text-anchor="start" textLength="26.9" lengthAdjust="spacingAndGlyphs">119°E</text>
<text x="24.5" y="585" font-family="'Liberation Mono','DejaVu Sans Mono',monospace" font-size="5.3" font-weight="normal" font-style="normal" fill="#555" text-anchor="start" textLength="222" lengthAdjust="spacingAndGlyphs">Source: InaWAVES Coupled Atmosphere Wave Ocean (Ina-CAWO)</text>
<text x="24.5" y="593" font-family="'Liberation Mono','DejaVu Sans Mono',monospace" font-size="5.3" font-weight="normal" font-style="normal" fill="#555" text-anchor="start" textLength="157" lengthAdjust="spacingAndGlyphs">Created by Center For Marine Meteorology,</text>
<text x="67.5" y="599" font-family="'Liberation Mono','DejaVu Sans Mono',monospace" font-size="5.3" font-weight="normal" font-style="normal" fill="#555" text-anchor="start" textLength="19.5" lengthAdjust="spacingAndGlyphs">BMKG</text>
<text x="284.3" y="593.3" font-family="'DejaVu Sans Condensed','DejaVu Sans','Liberation Sans',sans-serif" font-size="8" font-weight="bold" font-style="normal" fill="#333" text-anchor="start" textLength="23.3" lengthAdjust="spacingAndGlyphs">Wave</text>
<text x="274.07" y="602.6" font-family="'DejaVu Sans Condensed','DejaVu Sans','Liberation Sans',sans-serif" font-size="8" font-weight="bold" font-style="normal" fill="#333" text-anchor="start" textLength="41.87" lengthAdjust="spacingAndGlyphs">Direction</text>
<path d="M288.4,617.6L295.7,612.9" stroke="#111" stroke-width="2" fill="none"/><path d="M298.8,610.8L296.6,614.2L294.8,611.5Z" fill="#111" stroke="#111" stroke-width="0.8"/>
<text x="498.5" y="593.5" font-family="'Liberation Mono','DejaVu Sans Mono',monospace" font-size="9.6" font-weight="normal" font-style="normal" fill="#444" text-anchor="middle" textLength="167" lengthAdjust="spacingAndGlyphs">Significant Wave Height (m)</text>
<rect x="345.00" y="596.7" width="23.99" height="12.6" fill="#1464d2"/>
<rect x="368.69" y="596.7" width="23.99" height="12.6" fill="#3572c4"/>
<rect x="392.38" y="596.7" width="23.99" height="12.6" fill="#55aae6"/>
<rect x="416.08" y="596.7" width="23.99" height="12.6" fill="#14e1aa"/>
<rect x="439.77" y="596.7" width="23.99" height="12.6" fill="#14c850"/>
<rect x="463.46" y="596.7" width="23.99" height="12.6" fill="#ffff50"/>
<rect x="487.15" y="596.7" width="23.99" height="12.6" fill="#ffaa3c"/>
<rect x="510.85" y="596.7" width="23.99" height="12.6" fill="#ff8228"/>
<rect x="534.54" y="596.7" width="23.99" height="12.6" fill="#aa501e"/>
<rect x="558.23" y="596.7" width="23.99" height="12.6" fill="#e64632"/>
<rect x="581.92" y="596.7" width="23.99" height="12.6" fill="#d23232"/>
<rect x="605.62" y="596.7" width="23.99" height="12.6" fill="#e632c8"/>
<rect x="629.31" y="596.7" width="23.99" height="12.6" fill="#b43caa"/>
<path d="M653,596.7L667.7,603.0L653,609.3Z" fill="#5a1e78"/>
<path d="M345,596.7H653L667.7,603.0L653,609.3H345Z" fill="none" stroke="#2a2230" stroke-width="0.7"/>
<text x="345.8" y="624.9" font-family="'DejaVu Sans','Liberation Sans',sans-serif" font-size="8.1" font-weight="normal" font-style="normal" fill="#222" text-anchor="middle" stroke="#222" stroke-width="0.3">0</text>
<text x="369.5" y="624.9" font-family="'DejaVu Sans','Liberation Sans',sans-serif" font-size="8.1" font-weight="normal" font-style="normal" fill="#222" text-anchor="middle" stroke="#222" stroke-width="0.3">0.5</text>
<text x="393.2" y="624.9" font-family="'DejaVu Sans','Liberation Sans',sans-serif" font-size="8.1" font-weight="normal" font-style="normal" fill="#222" text-anchor="middle" stroke="#222" stroke-width="0.3">0.75</text>
<text x="416.9" y="624.9" font-family="'DejaVu Sans','Liberation Sans',sans-serif" font-size="8.1" font-weight="normal" font-style="normal" fill="#222" text-anchor="middle" stroke="#222" stroke-width="0.3">1</text>
<text x="440.6" y="624.9" font-family="'DejaVu Sans','Liberation Sans',sans-serif" font-size="8.1" font-weight="normal" font-style="normal" fill="#222" text-anchor="middle" stroke="#222" stroke-width="0.3">1.25</text>
<text x="464.3" y="624.9" font-family="'DejaVu Sans','Liberation Sans',sans-serif" font-size="8.1" font-weight="normal" font-style="normal" fill="#222" text-anchor="middle" stroke="#222" stroke-width="0.3">1.5</text>
<text x="488.0" y="624.9" font-family="'DejaVu Sans','Liberation Sans',sans-serif" font-size="8.1" font-weight="normal" font-style="normal" fill="#222" text-anchor="middle" stroke="#222" stroke-width="0.3">2</text>
<text x="511.6" y="624.9" font-family="'DejaVu Sans','Liberation Sans',sans-serif" font-size="8.1" font-weight="normal" font-style="normal" fill="#222" text-anchor="middle" stroke="#222" stroke-width="0.3">2.5</text>
<text x="535.3" y="624.9" font-family="'DejaVu Sans','Liberation Sans',sans-serif" font-size="8.1" font-weight="normal" font-style="normal" fill="#222" text-anchor="middle" stroke="#222" stroke-width="0.3">3</text>
<text x="559.0" y="624.9" font-family="'DejaVu Sans','Liberation Sans',sans-serif" font-size="8.1" font-weight="normal" font-style="normal" fill="#222" text-anchor="middle" stroke="#222" stroke-width="0.3">3.5</text>
<text x="582.7" y="624.9" font-family="'DejaVu Sans','Liberation Sans',sans-serif" font-size="8.1" font-weight="normal" font-style="normal" fill="#222" text-anchor="middle" stroke="#222" stroke-width="0.3">4</text>
<text x="606.4" y="624.9" font-family="'DejaVu Sans','Liberation Sans',sans-serif" font-size="8.1" font-weight="normal" font-style="normal" fill="#222" text-anchor="middle" stroke="#222" stroke-width="0.3">5</text>
<text x="630.1" y="624.9" font-family="'DejaVu Sans','Liberation Sans',sans-serif" font-size="8.1" font-weight="normal" font-style="normal" fill="#222" text-anchor="middle" stroke="#222" stroke-width="0.3">6</text>
<text x="653.8" y="624.9" font-family="'DejaVu Sans','Liberation Sans',sans-serif" font-size="8.1" font-weight="normal" font-style="normal" fill="#222" text-anchor="middle" stroke="#222" stroke-width="0.3">7</text>
<path d="M345.0,609.3v3.5M368.7,609.3v3.5M392.4,609.3v3.5M416.1,609.3v3.5M439.8,609.3v3.5M463.5,609.3v3.5M487.2,609.3v3.5M510.8,609.3v3.5M534.5,609.3v3.5M558.2,609.3v3.5M581.9,609.3v3.5M605.6,609.3v3.5M629.3,609.3v3.5M653.0,609.3v3.5" stroke="#333" stroke-width="0.9"/>
</g>
<rect x="704" y="138.5" width="497" height="617.5" fill="#fff"/>
<rect x="704" y="138.5" width="497" height="65.5" fill="#e6e6e6"/>
<rect x="948.75" y="204" width="252.25" height="66" fill="#ffff00"/>
<rect x="948.75" y="270" width="252.25" height="66" fill="#ff0a0a"/>
<rect x="948.75" y="336" width="252.25" height="66" fill="#ffff00"/>
<rect x="948.75" y="402" width="252.25" height="65.5" fill="#ff0a0a"/>
<rect x="948.75" y="467.5" width="252.25" height="82.5" fill="#e26b10"/>
<rect x="948.75" y="550" width="252.25" height="81.5" fill="#ff0a0a"/>
<rect x="948.75" y="631.5" width="252.25" height="69.5" fill="#ffff00"/>
<rect x="948.75" y="701" width="252.25" height="55" fill="#ffff00"/>
<line x1="704" y1="138.5" x2="1201" y2="138.5" stroke="#4a4a4a" stroke-width="1.4"/>
<line x1="704" y1="204" x2="1201" y2="204" stroke="#4a4a4a" stroke-width="1.4"/>
<line x1="704" y1="270" x2="1201" y2="270" stroke="#4a4a4a" stroke-width="1.4"/>
<line x1="704" y1="336" x2="1201" y2="336" stroke="#4a4a4a" stroke-width="1.4"/>
<line x1="704" y1="402" x2="1201" y2="402" stroke="#4a4a4a" stroke-width="1.4"/>
<line x1="704" y1="467.5" x2="1201" y2="467.5" stroke="#4a4a4a" stroke-width="1.4"/>
<line x1="704" y1="550" x2="1201" y2="550" stroke="#4a4a4a" stroke-width="1.4"/>
<line x1="704" y1="631.5" x2="1201" y2="631.5" stroke="#4a4a4a" stroke-width="1.4"/>
<line x1="704" y1="701" x2="1201" y2="701" stroke="#4a4a4a" stroke-width="1.4"/>
<line x1="704" y1="756" x2="1201" y2="756" stroke="#4a4a4a" stroke-width="1.4"/>
<line x1="704" y1="138.5" x2="704" y2="756" stroke="#4a4a4a" stroke-width="1.4"/>
<line x1="948.75" y1="138.5" x2="948.75" y2="756" stroke="#4a4a4a" stroke-width="1.4"/>
<line x1="1199.3" y1="138.5" x2="1199.3" y2="756" stroke="#777" stroke-width="1.2"/>
<rect x="703.3" y="137.8" width="1.4" height="1.4" fill="#4a4a4a"/><rect x="703.3" y="755.3" width="1.4" height="1.4" fill="#4a4a4a"/>
<text x="771.37" y="167" font-family="'DejaVu Sans Condensed','DejaVu Sans','Liberation Sans',sans-serif" font-size="22" font-weight="bold" font-style="normal" fill="#000" text-anchor="start" textLength="112.05" lengthAdjust="spacingAndGlyphs">WILAYAH</text>
<text x="765.33" y="193" font-family="'DejaVu Sans Condensed','DejaVu Sans','Liberation Sans',sans-serif" font-size="22" font-weight="bold" font-style="normal" fill="#000" text-anchor="start" textLength="122.41" lengthAdjust="spacingAndGlyphs">PERAIRAN</text>
<text x="1036.0" y="167" font-family="'DejaVu Sans Condensed','DejaVu Sans','Liberation Sans',sans-serif" font-size="22" font-weight="bold" font-style="normal" fill="#000" text-anchor="start" textLength="84.15" lengthAdjust="spacingAndGlyphs">TINGGI</text>
<text x="1003.46" y="193" font-family="'DejaVu Sans Condensed','DejaVu Sans','Liberation Sans',sans-serif" font-size="22" font-weight="bold" font-style="normal" fill="#000" text-anchor="start" textLength="146.67" lengthAdjust="spacingAndGlyphs">GELOMBANG</text>
<text x="737.97" y="232.5" font-family="'DejaVu Sans Condensed','DejaVu Sans','Liberation Sans',sans-serif" font-size="22" font-weight="bold" font-style="normal" fill="#000" text-anchor="start" textLength="175.01" lengthAdjust="spacingAndGlyphs">SELAT LOMBOK</text>
<text x="737.9" y="258.75" font-family="'DejaVu Sans Condensed','DejaVu Sans','Liberation Sans',sans-serif" font-size="22" font-weight="bold" font-style="normal" fill="#000" text-anchor="start" textLength="175.15" lengthAdjust="spacingAndGlyphs">BAGIAN UTARA</text>
<text x="737.97" y="297.5" font-family="'DejaVu Sans Condensed','DejaVu Sans','Liberation Sans',sans-serif" font-size="22" font-weight="bold" font-style="normal" fill="#000" text-anchor="start" textLength="175.01" lengthAdjust="spacingAndGlyphs">SELAT LOMBOK</text>
<text x="725.89" y="324" font-family="'DejaVu Sans Condensed','DejaVu Sans','Liberation Sans',sans-serif" font-size="22" font-weight="bold" font-style="normal" fill="#000" text-anchor="start" textLength="200.64" lengthAdjust="spacingAndGlyphs">BAGIAN SELATAN</text>
<text x="765.73" y="363.75" font-family="'DejaVu Sans Condensed','DejaVu Sans','Liberation Sans',sans-serif" font-size="22" font-weight="bold" font-style="normal" fill="#000" text-anchor="start" textLength="135.2" lengthAdjust="spacingAndGlyphs">SELAT ALAS</text>
<text x="737.9" y="390.5" font-family="'DejaVu Sans Condensed','DejaVu Sans','Liberation Sans',sans-serif" font-size="22" font-weight="bold" font-style="normal" fill="#000" text-anchor="start" textLength="175.15" lengthAdjust="spacingAndGlyphs">BAGIAN UTARA</text>
<text x="765.73" y="429.5" font-family="'DejaVu Sans Condensed','DejaVu Sans','Liberation Sans',sans-serif" font-size="22" font-weight="bold" font-style="normal" fill="#000" text-anchor="start" textLength="135.2" lengthAdjust="spacingAndGlyphs">SELAT ALAS</text>
<text x="725.89" y="456" font-family="'DejaVu Sans Condensed','DejaVu Sans','Liberation Sans',sans-serif" font-size="22" font-weight="bold" font-style="normal" fill="#000" text-anchor="start" textLength="200.64" lengthAdjust="spacingAndGlyphs">BAGIAN SELATAN</text>
<text x="765.33" y="489.5" font-family="'DejaVu Sans Condensed','DejaVu Sans','Liberation Sans',sans-serif" font-size="22" font-weight="bold" font-style="normal" fill="#000" text-anchor="start" textLength="122.41" lengthAdjust="spacingAndGlyphs">PERAIRAN</text>
<text x="773.93" y="517" font-family="'DejaVu Sans Condensed','DejaVu Sans','Liberation Sans',sans-serif" font-size="22" font-weight="bold" font-style="normal" fill="#000" text-anchor="start" textLength="104.89" lengthAdjust="spacingAndGlyphs">SELATAN</text>
<text x="765.71" y="544.5" font-family="'DejaVu Sans Condensed','DejaVu Sans','Liberation Sans',sans-serif" font-size="22" font-weight="bold" font-style="normal" fill="#000" text-anchor="start" textLength="120.43" lengthAdjust="spacingAndGlyphs">SUMBAWA</text>
<text x="721.45" y="585" font-family="'DejaVu Sans Condensed','DejaVu Sans','Liberation Sans',sans-serif" font-size="22" font-weight="bold" font-style="normal" fill="#000" text-anchor="start" textLength="208.87" lengthAdjust="spacingAndGlyphs">SAMUDRA HINDIA</text>
<text x="747.7" y="613" font-family="'DejaVu Sans Condensed','DejaVu Sans','Liberation Sans',sans-serif" font-size="22" font-weight="bold" font-style="normal" fill="#000" text-anchor="start" textLength="157.1" lengthAdjust="spacingAndGlyphs">SELATAN NTB</text>
<text x="765.73" y="660.5" font-family="'DejaVu Sans Condensed','DejaVu Sans','Liberation Sans',sans-serif" font-size="22" font-weight="bold" font-style="normal" fill="#000" text-anchor="start" textLength="135.3" lengthAdjust="spacingAndGlyphs">SELAT SAPE</text>
<text x="737.9" y="688" font-family="'DejaVu Sans Condensed','DejaVu Sans','Liberation Sans',sans-serif" font-size="22" font-weight="bold" font-style="normal" fill="#000" text-anchor="start" textLength="175.15" lengthAdjust="spacingAndGlyphs">BAGIAN UTARA</text>
<text x="765.73" y="722.5" font-family="'DejaVu Sans Condensed','DejaVu Sans','Liberation Sans',sans-serif" font-size="22" font-weight="bold" font-style="normal" fill="#000" text-anchor="start" textLength="135.3" lengthAdjust="spacingAndGlyphs">SELAT SAPE</text>
<text x="725.89" y="749.5" font-family="'DejaVu Sans Condensed','DejaVu Sans','Liberation Sans',sans-serif" font-size="22" font-weight="bold" font-style="normal" fill="#000" text-anchor="start" textLength="200.64" lengthAdjust="spacingAndGlyphs">BAGIAN SELATAN</text>
<text y="246.25" font-family="'DejaVu Sans Condensed','DejaVu Sans','Liberation Sans',sans-serif" font-size="24" font-weight="bold" font-style="normal" fill="#111100"><tspan x="974.3" textLength="51.95" lengthAdjust="spacingAndGlyphs">1.25</tspan> <tspan x="1034.72" textLength="16.5" lengthAdjust="spacingAndGlyphs">–</tspan> <tspan x="1056.0" textLength="38.25" lengthAdjust="spacingAndGlyphs">2.5</tspan> <tspan x="1100.94" textLength="75.09" lengthAdjust="spacingAndGlyphs">meter</tspan></text>
<text y="312.5" font-family="'DejaVu Sans Condensed','DejaVu Sans','Liberation Sans',sans-serif" font-size="24" font-weight="bold" font-style="normal" fill="#300505"><tspan x="982.3" textLength="36.39" lengthAdjust="spacingAndGlyphs">4.0</tspan> <tspan x="1027.22" textLength="16.5" lengthAdjust="spacingAndGlyphs">–</tspan> <tspan x="1048.99" textLength="38.52" lengthAdjust="spacingAndGlyphs">6.0</tspan> <tspan x="1093.44" textLength="75.09" lengthAdjust="spacingAndGlyphs">meter</tspan></text>
<text y="378" font-family="'DejaVu Sans Condensed','DejaVu Sans','Liberation Sans',sans-serif" font-size="24" font-weight="bold" font-style="normal" fill="#111100"><tspan x="974.3" textLength="51.95" lengthAdjust="spacingAndGlyphs">1.25</tspan> <tspan x="1034.72" textLength="16.5" lengthAdjust="spacingAndGlyphs">–</tspan> <tspan x="1056.0" textLength="38.25" lengthAdjust="spacingAndGlyphs">2.5</tspan> <tspan x="1100.94" textLength="75.09" lengthAdjust="spacingAndGlyphs">meter</tspan></text>
<text y="443.75" font-family="'DejaVu Sans Condensed','DejaVu Sans','Liberation Sans',sans-serif" font-size="24" font-weight="bold" font-style="normal" fill="#300505"><tspan x="982.3" textLength="36.39" lengthAdjust="spacingAndGlyphs">4.0</tspan> <tspan x="1027.22" textLength="16.5" lengthAdjust="spacingAndGlyphs">–</tspan> <tspan x="1048.99" textLength="38.52" lengthAdjust="spacingAndGlyphs">6.0</tspan> <tspan x="1093.44" textLength="75.09" lengthAdjust="spacingAndGlyphs">meter</tspan></text>
<text y="518" font-family="'DejaVu Sans Condensed','DejaVu Sans','Liberation Sans',sans-serif" font-size="24" font-weight="bold" font-style="normal" fill="#241005"><tspan x="981.75" textLength="38.25" lengthAdjust="spacingAndGlyphs">2.5</tspan> <tspan x="1027.22" textLength="16.5" lengthAdjust="spacingAndGlyphs">–</tspan> <tspan x="1048.99" textLength="38.52" lengthAdjust="spacingAndGlyphs">4.0</tspan> <tspan x="1093.44" textLength="75.09" lengthAdjust="spacingAndGlyphs">meter</tspan></text>
<text y="599.5" font-family="'DejaVu Sans Condensed','DejaVu Sans','Liberation Sans',sans-serif" font-size="24" font-weight="bold" font-style="normal" fill="#300505"><tspan x="982.3" textLength="36.39" lengthAdjust="spacingAndGlyphs">4.0</tspan> <tspan x="1027.22" textLength="16.5" lengthAdjust="spacingAndGlyphs">–</tspan> <tspan x="1048.99" textLength="38.52" lengthAdjust="spacingAndGlyphs">6.0</tspan> <tspan x="1093.44" textLength="75.09" lengthAdjust="spacingAndGlyphs">meter</tspan></text>
<text y="675" font-family="'DejaVu Sans Condensed','DejaVu Sans','Liberation Sans',sans-serif" font-size="24" font-weight="bold" font-style="normal" fill="#111100"><tspan x="974.3" textLength="51.95" lengthAdjust="spacingAndGlyphs">1.25</tspan> <tspan x="1034.72" textLength="16.5" lengthAdjust="spacingAndGlyphs">–</tspan> <tspan x="1056.0" textLength="38.25" lengthAdjust="spacingAndGlyphs">2.5</tspan> <tspan x="1100.94" textLength="75.09" lengthAdjust="spacingAndGlyphs">meter</tspan></text>
<text y="738.75" font-family="'DejaVu Sans Condensed','DejaVu Sans','Liberation Sans',sans-serif" font-size="24" font-weight="bold" font-style="normal" fill="#111100"><tspan x="974.3" textLength="51.95" lengthAdjust="spacingAndGlyphs">1.25</tspan> <tspan x="1034.72" textLength="16.5" lengthAdjust="spacingAndGlyphs">–</tspan> <tspan x="1056.0" textLength="38.25" lengthAdjust="spacingAndGlyphs">2.5</tspan> <tspan x="1100.94" textLength="75.09" lengthAdjust="spacingAndGlyphs">meter</tspan></text>
<rect x="0" y="795.6" width="173.5" height="4.6" fill="#2a72b8"/>
<rect x="0" y="795.6" width="173.5" height="1.3" fill="#1d4f80"/>
<rect x="173.5" y="795.6" width="228.5" height="4.6" fill="#24a455"/>
<rect x="173.5" y="795.6" width="228.5" height="1.3" fill="#17703a"/>
<rect x="172.8" y="795.6" width="1.4" height="4.6" fill="#17703a"/>
<rect x="402" y="795.6" width="212" height="4.6" fill="#ffff3c"/>
<rect x="402" y="795.6" width="212" height="1.3" fill="#6f6f10"/>
<rect x="401.3" y="795.6" width="1.4" height="4.6" fill="#6f6f10"/>
<rect x="614" y="795.6" width="202" height="4.6" fill="#e27a30"/>
<rect x="614" y="795.6" width="202" height="1.3" fill="#8a4818"/>
<rect x="613.3" y="795.6" width="1.4" height="4.6" fill="#8a4818"/>
<rect x="816" y="795.6" width="203.5" height="4.6" fill="#e42222"/>
<rect x="816" y="795.6" width="203.5" height="1.3" fill="#8a1a14"/>
<rect x="815.3" y="795.6" width="1.4" height="4.6" fill="#8a1a14"/>
<rect x="1019.5" y="795.6" width="180.5" height="4.6" fill="#6c3f9c"/>
<rect x="1019.5" y="795.6" width="180.5" height="1.3" fill="#432663"/>
<rect x="1018.8" y="795.6" width="1.4" height="4.6" fill="#432663"/>
</svg></body></html>
